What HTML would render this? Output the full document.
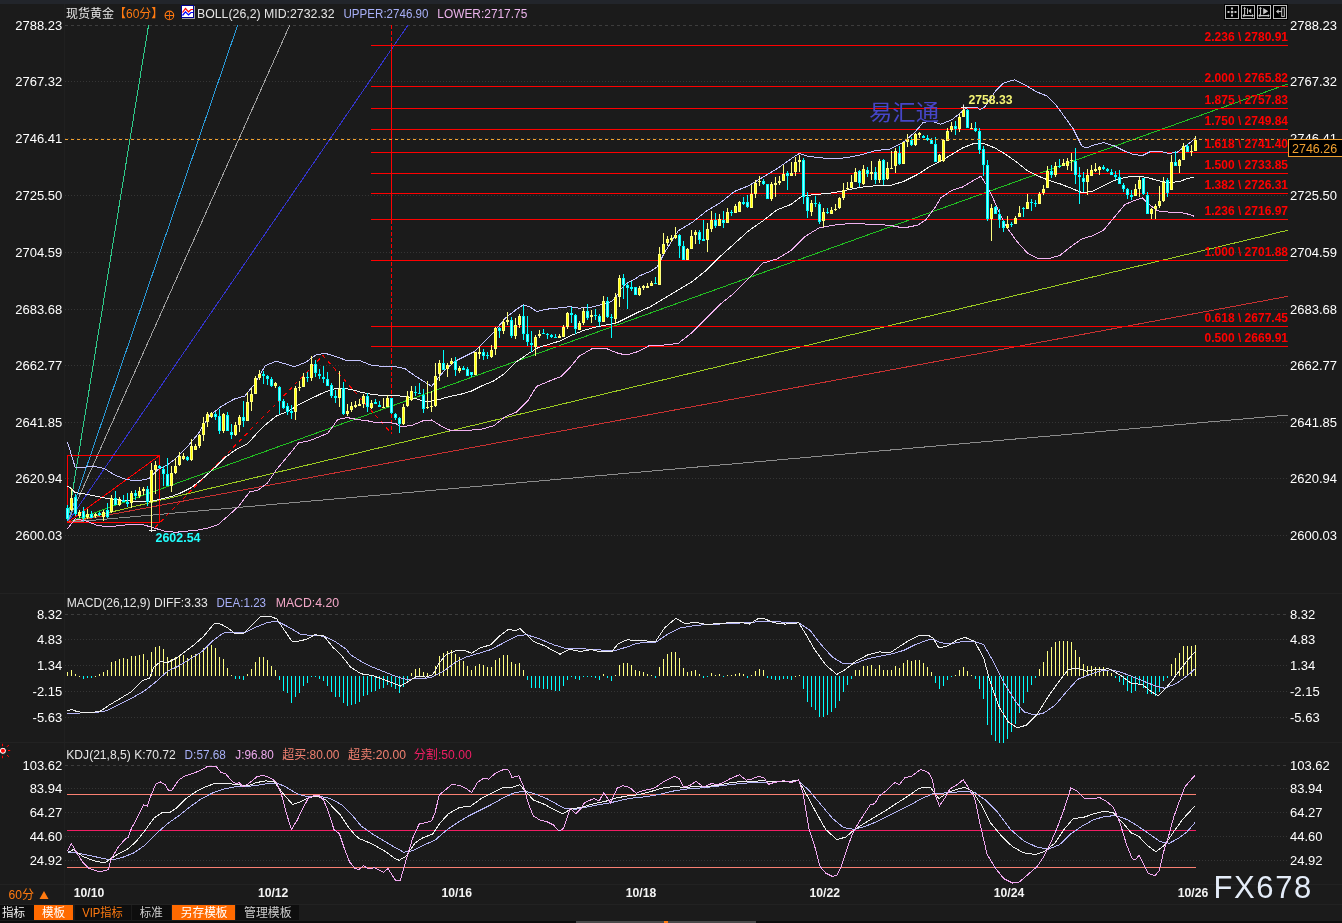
<!DOCTYPE html>
<html><head><meta charset="utf-8"><title>现货黄金 60分</title>
<style>
html,body{margin:0;padding:0;background:#1b1b1b;}
body{width:1342px;height:923px;overflow:hidden;}
svg{display:block;}
text{white-space:pre;}
</style></head><body>
<svg width="1342" height="923" viewBox="0 0 1342 923">
<rect x="0" y="0" width="1342" height="923" fill="#1b1b1b"/>
<rect x="0" y="0" width="1342" height="4" fill="#22252b"/>
<rect x="64" y="4" width="1" height="900" fill="#202020"/>
<rect x="0" y="593" width="1342" height="1" fill="#222"/>
<rect x="0" y="742" width="1342" height="1" fill="#222"/>
<rect x="0" y="884" width="1342" height="1" fill="#222"/>
<rect x="0" y="904" width="1342" height="1" fill="#222"/>
<line x1="65" y1="25.5" x2="1288" y2="25.5" stroke="#3d3d3d" stroke-width="1" stroke-dasharray="3,3" shape-rendering="crispEdges"/>
<line x1="65" y1="81.5" x2="1288" y2="81.5" stroke="#353535" stroke-width="1" stroke-dasharray="1,2" shape-rendering="crispEdges"/>
<line x1="65" y1="138.5" x2="1288" y2="138.5" stroke="#353535" stroke-width="1" stroke-dasharray="1,2" shape-rendering="crispEdges"/>
<line x1="65" y1="195.5" x2="1288" y2="195.5" stroke="#353535" stroke-width="1" stroke-dasharray="1,2" shape-rendering="crispEdges"/>
<line x1="65" y1="252.5" x2="1288" y2="252.5" stroke="#353535" stroke-width="1" stroke-dasharray="1,2" shape-rendering="crispEdges"/>
<line x1="65" y1="309.5" x2="1288" y2="309.5" stroke="#353535" stroke-width="1" stroke-dasharray="1,2" shape-rendering="crispEdges"/>
<line x1="65" y1="365.5" x2="1288" y2="365.5" stroke="#353535" stroke-width="1" stroke-dasharray="1,2" shape-rendering="crispEdges"/>
<line x1="65" y1="422.5" x2="1288" y2="422.5" stroke="#353535" stroke-width="1" stroke-dasharray="1,2" shape-rendering="crispEdges"/>
<line x1="65" y1="478.5" x2="1288" y2="478.5" stroke="#353535" stroke-width="1" stroke-dasharray="1,2" shape-rendering="crispEdges"/>
<line x1="65" y1="535.5" x2="1288" y2="535.5" stroke="#353535" stroke-width="1" stroke-dasharray="1,2" shape-rendering="crispEdges"/>
<line x1="65" y1="614.5" x2="1288" y2="614.5" stroke="#3d3d3d" stroke-width="1" stroke-dasharray="3,3" shape-rendering="crispEdges"/>
<line x1="65" y1="639.5" x2="1288" y2="639.5" stroke="#353535" stroke-width="1" stroke-dasharray="1,2" shape-rendering="crispEdges"/>
<line x1="65" y1="665.5" x2="1288" y2="665.5" stroke="#353535" stroke-width="1" stroke-dasharray="1,2" shape-rendering="crispEdges"/>
<line x1="65" y1="691.5" x2="1288" y2="691.5" stroke="#353535" stroke-width="1" stroke-dasharray="1,2" shape-rendering="crispEdges"/>
<line x1="65" y1="717.5" x2="1288" y2="717.5" stroke="#353535" stroke-width="1" stroke-dasharray="1,2" shape-rendering="crispEdges"/>
<line x1="65" y1="765.5" x2="1288" y2="765.5" stroke="#3d3d3d" stroke-width="1" stroke-dasharray="3,3" shape-rendering="crispEdges"/>
<line x1="65" y1="788.5" x2="1288" y2="788.5" stroke="#353535" stroke-width="1" stroke-dasharray="1,2" shape-rendering="crispEdges"/>
<line x1="65" y1="812.5" x2="1288" y2="812.5" stroke="#353535" stroke-width="1" stroke-dasharray="1,2" shape-rendering="crispEdges"/>
<line x1="65" y1="836.5" x2="1288" y2="836.5" stroke="#353535" stroke-width="1" stroke-dasharray="1,2" shape-rendering="crispEdges"/>
<line x1="65" y1="860.5" x2="1288" y2="860.5" stroke="#353535" stroke-width="1" stroke-dasharray="1,2" shape-rendering="crispEdges"/>

<line x1="67.5" y1="522.5" x2="148.5" y2="25.5" stroke="#2ecc8a" stroke-width="1" shape-rendering="crispEdges"/>
<line x1="67.5" y1="522.5" x2="237.5" y2="25.5" stroke="#2a9ad8" stroke-width="1" shape-rendering="crispEdges"/>
<line x1="67.5" y1="522.5" x2="289.6" y2="25.5" stroke="#a0a0a0" stroke-width="1" shape-rendering="crispEdges"/>
<line x1="67.5" y1="522.5" x2="407.7" y2="25.5" stroke="#3434d0" stroke-width="1" shape-rendering="crispEdges"/>
<line x1="67.5" y1="522.5" x2="159.5" y2="455.5" stroke="#ff0000" stroke-width="1" shape-rendering="crispEdges"/>
<line x1="67.5" y1="522.5" x2="1288.0" y2="83.9" stroke="#22c022" stroke-width="1" shape-rendering="crispEdges"/>
<line x1="67.5" y1="522.5" x2="1288.0" y2="230.2" stroke="#9ccc22" stroke-width="1" shape-rendering="crispEdges"/>
<line x1="67.5" y1="522.5" x2="1288.0" y2="296.3" stroke="#c83232" stroke-width="1" shape-rendering="crispEdges"/>
<line x1="67.5" y1="522.5" x2="1288.0" y2="415.0" stroke="#8c8c8c" stroke-width="1" shape-rendering="crispEdges"/>
<rect x="67.5" y="455.5" width="92" height="67" fill="none" stroke="#ff0000" stroke-width="1"/>
<rect x="371" y="45" width="917" height="1" fill="#ff0000"/>
<rect x="371" y="86" width="917" height="1" fill="#ff0000"/>
<rect x="371" y="108" width="917" height="1" fill="#ff0000"/>
<rect x="371" y="129" width="917" height="1" fill="#ff0000"/>
<rect x="371" y="152" width="917" height="1" fill="#ff0000"/>
<rect x="371" y="173" width="917" height="1" fill="#ff0000"/>
<rect x="371" y="193" width="917" height="1" fill="#ff0000"/>
<rect x="371" y="219" width="917" height="1" fill="#ff0000"/>
<rect x="371" y="260" width="917" height="1" fill="#ff0000"/>
<rect x="371" y="326" width="917" height="1" fill="#ff0000"/>
<rect x="371" y="346" width="917" height="1" fill="#ff0000"/>
<line x1="391.5" y1="25" x2="391.5" y2="45" stroke="#ff0000" stroke-width="1" stroke-dasharray="4,2" shape-rendering="crispEdges"/>
<rect x="391" y="45" width="1" height="174" fill="#ff0000"/>
<line x1="391.5" y1="220" x2="391.5" y2="326" stroke="#ff0000" stroke-width="1" stroke-dasharray="4,2" shape-rendering="crispEdges"/>
<rect x="391" y="326" width="1" height="21" fill="#ff0000"/>
<line x1="391.5" y1="348" x2="391.5" y2="434" stroke="#ff0000" stroke-width="1" stroke-dasharray="4,2" shape-rendering="crispEdges"/>
<polyline points="155,527.5 323,355.6 391,433" fill="none" stroke="#ff0000" stroke-width="1" stroke-dasharray="4,4" shape-rendering="crispEdges"/>
<polyline points="67.4,441.7 75.2,467.4 81.9,467.4 93.0,466.3 104.2,468.5 115.4,475.3 126.6,479.7 137.8,480.8 149.0,478.6 157.9,469.7 166.8,465.2 175.8,458.5 187.0,447.3 198.1,433.9 209.3,416.0 220.5,407.0 233.9,399.2 245.0,395.9 254.0,384.7 265.2,365.7 276.4,361.2 287.6,364.6 294.3,366.8 305.4,362.4 316.6,354.5 325.6,353.4 336.7,356.8 346.5,360.5 360.0,360.7 371.2,365.2 382.4,366.3 393.5,366.3 404.7,368.5 415.9,376.4 424.8,382.0 431.5,386.4 436.0,380.8 445.0,369.7 456.1,360.7 467.3,355.1 474.0,351.8 483.0,342.8 494.1,331.7 505.3,318.2 516.5,309.3 523.2,304.8 529.9,307.0 536.6,311.5 545.6,309.3 556.7,308.2 570.1,306.6 579.1,308.2 592.5,307.0 601.5,304.5 611.3,301.7 616.7,295.8 621.0,289.3 627.5,282.8 636.0,278.4 639.5,275.8 650.6,271.3 657.3,266.8 664.1,253.4 678.2,230.8 692.3,222.4 706.3,211.1 720.4,202.7 734.5,191.4 748.6,185.8 762.7,177.3 776.8,168.9 790.8,159.0 799.3,153.4 807.7,156.2 819.0,157.6 833.1,159.0 847.2,157.6 861.3,154.8 875.4,150.6 889.4,149.2 903.5,142.1 914.8,132.3 923.2,122.4 931.7,121.0 940.8,124.2 951.7,119.8 962.5,111.2 967.0,107.5 977.0,107.5 980.0,109.6 984.4,107.5 995.0,91.7 1003.7,83.0 1014.5,79.8 1025.4,85.2 1036.2,91.7 1047.0,96.0 1055.7,104.7 1064.4,116.6 1073.0,128.5 1081.7,145.9 1086.0,148.0 1094.7,144.8 1103.4,142.6 1114.2,145.9 1125.0,151.3 1133.7,154.5 1142.4,155.6 1151.0,151.3 1159.7,151.3 1168.4,153.4 1177.0,152.4 1185.7,145.9 1195.5,138.3" fill="none" stroke="#c4c4ff" stroke-width="1" shape-rendering="crispEdges"/>
<polyline points="67.4,486.4 70.0,487.5 75.2,492.5 86.4,494.3 97.5,496.5 108.7,498.7 119.9,499.9 131.0,501.0 142.2,501.0 153.4,501.0 162.4,498.7 171.3,496.5 180.3,493.1 191.4,487.6 202.6,478.6 213.8,468.5 225.0,457.4 236.1,449.5 247.3,444.0 256.3,433.9 265.2,425.0 276.4,416.0 287.6,411.5 298.7,404.8 309.9,399.2 321.1,393.7 332.3,389.2 343.5,388.1 354.6,390.3 360.0,392.0 371.2,394.3 382.4,395.4 393.5,395.4 404.7,396.5 415.9,398.7 427.0,402.0 438.2,399.8 449.4,396.5 460.6,394.3 471.8,390.9 483.0,385.3 494.1,380.8 505.3,373.0 516.5,361.8 527.7,354.0 538.8,347.3 550.0,344.0 561.2,340.6 572.4,335.0 583.6,330.5 594.7,327.2 605.9,325.0 617.1,322.7 628.3,317.1 639.5,311.5 650.0,306.9 664.1,298.5 678.2,290.0 692.3,281.5 706.3,270.3 720.4,256.2 734.5,243.5 748.6,230.8 762.7,221.0 776.8,210.0 790.8,204.5 802.1,196.0 819.0,194.2 833.1,192.8 847.2,190.0 861.3,187.2 875.4,185.8 889.4,185.8 903.5,181.5 917.6,174.5 930.0,166.4 940.8,161.0 951.7,154.5 962.5,148.0 973.3,143.7 984.2,143.7 995.0,148.0 1005.9,154.5 1016.7,162.1 1027.5,170.8 1038.4,176.2 1049.2,180.5 1060.0,183.8 1070.9,188.1 1081.7,192.5 1092.5,191.4 1103.4,186.0 1114.2,180.5 1125.0,177.3 1135.9,176.2 1146.7,177.3 1157.6,180.5 1168.4,182.7 1179.2,181.6 1187.9,178.4 1194.4,177.3" fill="none" stroke="#f4f4f4" stroke-width="1" shape-rendering="crispEdges"/>
<polyline points="67.4,528.9 75.2,518.9 86.4,521.0 97.5,525.6 108.7,526.7 119.9,525.6 131.0,524.4 142.2,524.4 153.4,527.8 164.6,531.1 175.8,532.3 187.0,531.1 198.1,530.0 209.3,527.8 218.3,524.4 227.2,516.6 238.4,506.6 249.6,492.0 258.5,489.8 267.4,483.1 276.4,469.7 287.6,456.3 298.7,442.8 309.9,440.6 321.1,436.1 328.0,433.0 337.8,419.5 347.5,417.6 357.0,419.5 367.0,420.7 376.8,422.7 386.5,422.4 396.0,423.5 400.2,426.7 411.4,425.6 422.6,421.0 431.5,420.0 440.5,425.6 449.4,430.0 460.6,430.0 471.8,430.0 483.0,428.9 494.1,425.6 505.3,416.6 516.5,412.1 527.7,401.0 536.6,386.4 550.0,380.8 561.2,376.4 570.1,367.4 579.1,356.3 592.5,348.4 605.9,348.4 617.1,352.9 626.0,355.1 637.2,351.8 648.4,346.2 650.0,345.0 664.1,345.0 678.2,343.5 692.3,332.3 706.3,318.2 720.4,304.1 734.5,292.8 748.6,278.7 762.7,263.2 776.8,259.0 790.8,250.6 804.9,236.5 819.0,228.0 833.1,225.2 847.2,223.8 861.3,223.8 875.4,224.6 889.4,225.2 903.5,228.0 917.6,225.2 926.0,219.6 934.5,208.3 940.8,197.9 951.7,190.3 962.5,187.0 973.3,180.5 980.9,176.2 986.4,184.9 992.9,197.9 999.4,213.0 1005.9,226.0 1016.7,241.2 1027.5,253.1 1038.4,258.6 1049.2,258.6 1060.0,255.3 1070.9,246.6 1081.7,239.0 1092.5,235.8 1103.4,230.4 1114.2,217.4 1125.0,204.4 1135.9,200.0 1142.4,197.9 1148.9,204.4 1157.6,210.9 1168.4,212.0 1179.2,212.0 1187.9,214.1 1194.4,216.3" fill="none" stroke="#f0b2f0" stroke-width="1" shape-rendering="crispEdges"/>
<rect x="67" y="505" width="1" height="16" fill="#00ffff"/>
<rect x="66" y="508" width="3" height="11" fill="#00ffff"/>
<rect x="67" y="509" width="1" height="9" fill="#90ffff"/>
<rect x="71" y="488" width="1" height="23" fill="#ffff80"/>
<rect x="70" y="498" width="3" height="12" fill="#ffff80"/>
<rect x="71" y="499" width="1" height="10" fill="#ffff00"/>
<rect x="75" y="494" width="1" height="22" fill="#00ffff"/>
<rect x="74" y="497" width="3" height="17" fill="#00ffff"/>
<rect x="75" y="498" width="1" height="15" fill="#90ffff"/>
<rect x="79" y="510" width="1" height="8" fill="#ffff80"/>
<rect x="78" y="512" width="3" height="4" fill="#ffff80"/>
<rect x="79" y="513" width="1" height="2" fill="#ffff00"/>
<rect x="83" y="507" width="1" height="14" fill="#00ffff"/>
<rect x="82" y="511" width="3" height="7" fill="#00ffff"/>
<rect x="83" y="512" width="1" height="5" fill="#90ffff"/>
<rect x="87" y="509" width="1" height="10" fill="#ffff80"/>
<rect x="86" y="514" width="3" height="3" fill="#ffff80"/>
<rect x="87" y="515" width="1" height="1" fill="#ffff00"/>
<rect x="91" y="511" width="1" height="7" fill="#00ffff"/>
<rect x="90" y="514" width="3" height="4" fill="#00ffff"/>
<rect x="91" y="515" width="1" height="2" fill="#90ffff"/>
<rect x="95" y="513" width="1" height="5" fill="#ffff80"/>
<rect x="94" y="514" width="3" height="2" fill="#ffff80"/>
<rect x="99" y="512" width="1" height="4" fill="#00ffff"/>
<rect x="98" y="513" width="3" height="2" fill="#00ffff"/>
<rect x="103" y="510" width="1" height="11" fill="#ffff80"/>
<rect x="102" y="512" width="3" height="5" fill="#ffff80"/>
<rect x="103" y="513" width="1" height="3" fill="#ffff00"/>
<rect x="107" y="503" width="1" height="15" fill="#00ffff"/>
<rect x="106" y="510" width="3" height="7" fill="#00ffff"/>
<rect x="107" y="511" width="1" height="5" fill="#90ffff"/>
<rect x="111" y="495" width="1" height="18" fill="#ffff80"/>
<rect x="110" y="498" width="3" height="14" fill="#ffff80"/>
<rect x="111" y="499" width="1" height="12" fill="#ffff00"/>
<rect x="115" y="491" width="1" height="14" fill="#00ffff"/>
<rect x="114" y="498" width="3" height="7" fill="#00ffff"/>
<rect x="115" y="499" width="1" height="5" fill="#90ffff"/>
<rect x="119" y="497" width="1" height="9" fill="#ffff80"/>
<rect x="118" y="500" width="3" height="5" fill="#ffff80"/>
<rect x="119" y="501" width="1" height="3" fill="#ffff00"/>
<rect x="123" y="495" width="1" height="7" fill="#00ffff"/>
<rect x="122" y="500" width="3" height="2" fill="#00ffff"/>
<rect x="127" y="493" width="1" height="14" fill="#00ffff"/>
<rect x="126" y="502" width="3" height="2" fill="#00ffff"/>
<rect x="131" y="491" width="1" height="17" fill="#ffff80"/>
<rect x="130" y="493" width="3" height="10" fill="#ffff80"/>
<rect x="131" y="494" width="1" height="8" fill="#ffff00"/>
<rect x="135" y="490" width="1" height="10" fill="#00ffff"/>
<rect x="134" y="493" width="3" height="3" fill="#00ffff"/>
<rect x="135" y="494" width="1" height="1" fill="#90ffff"/>
<rect x="139" y="487" width="1" height="11" fill="#ffff80"/>
<rect x="138" y="491" width="3" height="5" fill="#ffff80"/>
<rect x="139" y="492" width="1" height="3" fill="#ffff00"/>
<rect x="143" y="487" width="1" height="8" fill="#ffff80"/>
<rect x="142" y="489" width="3" height="2" fill="#ffff80"/>
<rect x="147" y="486" width="1" height="20" fill="#00ffff"/>
<rect x="146" y="489" width="3" height="13" fill="#00ffff"/>
<rect x="147" y="490" width="1" height="11" fill="#90ffff"/>
<rect x="151" y="463" width="1" height="66" fill="#ffff80"/>
<rect x="150" y="470" width="3" height="32" fill="#ffff80"/>
<rect x="151" y="471" width="1" height="30" fill="#ffff00"/>
<rect x="155" y="461" width="1" height="33" fill="#ffff80"/>
<rect x="154" y="465" width="3" height="5" fill="#ffff80"/>
<rect x="155" y="466" width="1" height="3" fill="#ffff00"/>
<rect x="159" y="465" width="1" height="4" fill="#00ffff"/>
<rect x="158" y="466" width="3" height="2" fill="#00ffff"/>
<rect x="163" y="466" width="1" height="20" fill="#00ffff"/>
<rect x="162" y="469" width="3" height="5" fill="#00ffff"/>
<rect x="163" y="470" width="1" height="3" fill="#90ffff"/>
<rect x="167" y="458" width="1" height="28" fill="#00ffff"/>
<rect x="166" y="474" width="3" height="12" fill="#00ffff"/>
<rect x="167" y="475" width="1" height="10" fill="#90ffff"/>
<rect x="171" y="466" width="1" height="26" fill="#ffff80"/>
<rect x="170" y="473" width="3" height="13" fill="#ffff80"/>
<rect x="171" y="474" width="1" height="11" fill="#ffff00"/>
<rect x="175" y="458" width="1" height="16" fill="#ffff80"/>
<rect x="174" y="466" width="3" height="7" fill="#ffff80"/>
<rect x="175" y="467" width="1" height="5" fill="#ffff00"/>
<rect x="179" y="452" width="1" height="14" fill="#ffff80"/>
<rect x="178" y="456" width="3" height="9" fill="#ffff80"/>
<rect x="179" y="457" width="1" height="7" fill="#ffff00"/>
<rect x="183" y="453" width="1" height="7" fill="#ffff80"/>
<rect x="182" y="456" width="3" height="3" fill="#ffff80"/>
<rect x="183" y="457" width="1" height="1" fill="#ffff00"/>
<rect x="187" y="456" width="1" height="5" fill="#00ffff"/>
<rect x="186" y="457" width="3" height="3" fill="#00ffff"/>
<rect x="187" y="458" width="1" height="1" fill="#90ffff"/>
<rect x="191" y="439" width="1" height="22" fill="#ffff80"/>
<rect x="190" y="446" width="3" height="14" fill="#ffff80"/>
<rect x="191" y="447" width="1" height="12" fill="#ffff00"/>
<rect x="195" y="444" width="1" height="6" fill="#ffff80"/>
<rect x="194" y="446" width="3" height="4" fill="#ffff80"/>
<rect x="195" y="447" width="1" height="2" fill="#ffff00"/>
<rect x="199" y="434" width="1" height="14" fill="#ffff80"/>
<rect x="198" y="435" width="3" height="11" fill="#ffff80"/>
<rect x="199" y="436" width="1" height="9" fill="#ffff00"/>
<rect x="203" y="417" width="1" height="24" fill="#ffff80"/>
<rect x="202" y="423" width="3" height="12" fill="#ffff80"/>
<rect x="203" y="424" width="1" height="10" fill="#ffff00"/>
<rect x="207" y="412" width="1" height="15" fill="#ffff80"/>
<rect x="206" y="414" width="3" height="8" fill="#ffff80"/>
<rect x="207" y="415" width="1" height="6" fill="#ffff00"/>
<rect x="211" y="412" width="1" height="6" fill="#ffff80"/>
<rect x="210" y="413" width="3" height="4" fill="#ffff80"/>
<rect x="211" y="414" width="1" height="2" fill="#ffff00"/>
<rect x="215" y="412" width="1" height="8" fill="#00ffff"/>
<rect x="214" y="414" width="3" height="3" fill="#00ffff"/>
<rect x="215" y="415" width="1" height="1" fill="#90ffff"/>
<rect x="219" y="409" width="1" height="25" fill="#00ffff"/>
<rect x="218" y="416" width="3" height="15" fill="#00ffff"/>
<rect x="219" y="417" width="1" height="13" fill="#90ffff"/>
<rect x="223" y="413" width="1" height="20" fill="#ffff80"/>
<rect x="222" y="414" width="3" height="17" fill="#ffff80"/>
<rect x="223" y="415" width="1" height="15" fill="#ffff00"/>
<rect x="227" y="412" width="1" height="19" fill="#00ffff"/>
<rect x="226" y="415" width="3" height="16" fill="#00ffff"/>
<rect x="227" y="416" width="1" height="14" fill="#90ffff"/>
<rect x="231" y="424" width="1" height="15" fill="#00ffff"/>
<rect x="230" y="432" width="3" height="3" fill="#00ffff"/>
<rect x="231" y="433" width="1" height="1" fill="#90ffff"/>
<rect x="235" y="422" width="1" height="14" fill="#ffff80"/>
<rect x="234" y="425" width="3" height="10" fill="#ffff80"/>
<rect x="235" y="426" width="1" height="8" fill="#ffff00"/>
<rect x="239" y="415" width="1" height="17" fill="#ffff80"/>
<rect x="238" y="417" width="3" height="8" fill="#ffff80"/>
<rect x="239" y="418" width="1" height="6" fill="#ffff00"/>
<rect x="243" y="401" width="1" height="26" fill="#00ffff"/>
<rect x="242" y="417" width="3" height="4" fill="#00ffff"/>
<rect x="243" y="418" width="1" height="2" fill="#90ffff"/>
<rect x="247" y="392" width="1" height="29" fill="#ffff80"/>
<rect x="246" y="402" width="3" height="19" fill="#ffff80"/>
<rect x="247" y="403" width="1" height="17" fill="#ffff00"/>
<rect x="251" y="388" width="1" height="23" fill="#ffff80"/>
<rect x="250" y="394" width="3" height="8" fill="#ffff80"/>
<rect x="251" y="395" width="1" height="6" fill="#ffff00"/>
<rect x="255" y="376" width="1" height="18" fill="#ffff80"/>
<rect x="254" y="378" width="3" height="16" fill="#ffff80"/>
<rect x="255" y="379" width="1" height="14" fill="#ffff00"/>
<rect x="259" y="370" width="1" height="10" fill="#ffff80"/>
<rect x="258" y="374" width="3" height="4" fill="#ffff80"/>
<rect x="259" y="375" width="1" height="2" fill="#ffff00"/>
<rect x="263" y="371" width="1" height="13" fill="#00ffff"/>
<rect x="262" y="374" width="3" height="2" fill="#00ffff"/>
<rect x="267" y="375" width="1" height="10" fill="#00ffff"/>
<rect x="266" y="376" width="3" height="3" fill="#00ffff"/>
<rect x="267" y="377" width="1" height="1" fill="#90ffff"/>
<rect x="271" y="377" width="1" height="10" fill="#00ffff"/>
<rect x="270" y="379" width="3" height="7" fill="#00ffff"/>
<rect x="271" y="380" width="1" height="5" fill="#90ffff"/>
<rect x="275" y="382" width="1" height="6" fill="#ffff80"/>
<rect x="274" y="383" width="3" height="3" fill="#ffff80"/>
<rect x="275" y="384" width="1" height="1" fill="#ffff00"/>
<rect x="279" y="386" width="1" height="28" fill="#00ffff"/>
<rect x="278" y="387" width="3" height="14" fill="#00ffff"/>
<rect x="279" y="388" width="1" height="12" fill="#90ffff"/>
<rect x="283" y="399" width="1" height="10" fill="#00ffff"/>
<rect x="282" y="401" width="3" height="7" fill="#00ffff"/>
<rect x="283" y="402" width="1" height="5" fill="#90ffff"/>
<rect x="287" y="403" width="1" height="12" fill="#00ffff"/>
<rect x="286" y="406" width="3" height="6" fill="#00ffff"/>
<rect x="287" y="407" width="1" height="4" fill="#90ffff"/>
<rect x="291" y="405" width="1" height="14" fill="#00ffff"/>
<rect x="290" y="411" width="3" height="2" fill="#00ffff"/>
<rect x="295" y="386" width="1" height="34" fill="#ffff80"/>
<rect x="294" y="388" width="3" height="24" fill="#ffff80"/>
<rect x="295" y="389" width="1" height="22" fill="#ffff00"/>
<rect x="299" y="381" width="1" height="10" fill="#ffff80"/>
<rect x="298" y="387" width="3" height="1" fill="#ffff80"/>
<rect x="303" y="373" width="1" height="14" fill="#ffff80"/>
<rect x="302" y="377" width="3" height="10" fill="#ffff80"/>
<rect x="303" y="378" width="1" height="8" fill="#ffff00"/>
<rect x="307" y="372" width="1" height="10" fill="#00ffff"/>
<rect x="306" y="377" width="3" height="1" fill="#00ffff"/>
<rect x="311" y="356" width="1" height="25" fill="#ffff80"/>
<rect x="310" y="364" width="3" height="14" fill="#ffff80"/>
<rect x="311" y="365" width="1" height="12" fill="#ffff00"/>
<rect x="315" y="360" width="1" height="17" fill="#00ffff"/>
<rect x="314" y="364" width="3" height="9" fill="#00ffff"/>
<rect x="315" y="365" width="1" height="7" fill="#90ffff"/>
<rect x="319" y="369" width="1" height="10" fill="#00ffff"/>
<rect x="318" y="374" width="3" height="2" fill="#00ffff"/>
<rect x="323" y="366" width="1" height="17" fill="#00ffff"/>
<rect x="322" y="377" width="3" height="2" fill="#00ffff"/>
<rect x="327" y="372" width="1" height="14" fill="#00ffff"/>
<rect x="326" y="379" width="3" height="7" fill="#00ffff"/>
<rect x="327" y="380" width="1" height="5" fill="#90ffff"/>
<rect x="331" y="383" width="1" height="15" fill="#00ffff"/>
<rect x="330" y="385" width="3" height="11" fill="#00ffff"/>
<rect x="331" y="386" width="1" height="9" fill="#90ffff"/>
<rect x="335" y="390" width="1" height="13" fill="#00ffff"/>
<rect x="334" y="396" width="3" height="2" fill="#00ffff"/>
<rect x="339" y="371" width="1" height="36" fill="#ffff80"/>
<rect x="338" y="389" width="3" height="9" fill="#ffff80"/>
<rect x="339" y="390" width="1" height="7" fill="#ffff00"/>
<rect x="343" y="382" width="1" height="33" fill="#00ffff"/>
<rect x="342" y="388" width="3" height="26" fill="#00ffff"/>
<rect x="343" y="389" width="1" height="24" fill="#90ffff"/>
<rect x="347" y="404" width="1" height="12" fill="#ffff80"/>
<rect x="346" y="411" width="3" height="3" fill="#ffff80"/>
<rect x="347" y="412" width="1" height="1" fill="#ffff00"/>
<rect x="351" y="402" width="1" height="10" fill="#ffff80"/>
<rect x="350" y="406" width="3" height="4" fill="#ffff80"/>
<rect x="351" y="407" width="1" height="2" fill="#ffff00"/>
<rect x="355" y="401" width="1" height="7" fill="#ffff80"/>
<rect x="354" y="405" width="3" height="2" fill="#ffff80"/>
<rect x="359" y="399" width="1" height="7" fill="#ffff80"/>
<rect x="358" y="404" width="3" height="2" fill="#ffff80"/>
<rect x="363" y="394" width="1" height="14" fill="#ffff80"/>
<rect x="362" y="396" width="3" height="8" fill="#ffff80"/>
<rect x="363" y="397" width="1" height="6" fill="#ffff00"/>
<rect x="367" y="393" width="1" height="19" fill="#00ffff"/>
<rect x="366" y="396" width="3" height="11" fill="#00ffff"/>
<rect x="367" y="397" width="1" height="9" fill="#90ffff"/>
<rect x="371" y="400" width="1" height="9" fill="#ffff80"/>
<rect x="370" y="403" width="3" height="5" fill="#ffff80"/>
<rect x="371" y="404" width="1" height="3" fill="#ffff00"/>
<rect x="375" y="399" width="1" height="5" fill="#00ffff"/>
<rect x="374" y="402" width="3" height="2" fill="#00ffff"/>
<rect x="379" y="401" width="1" height="6" fill="#00ffff"/>
<rect x="378" y="405" width="3" height="2" fill="#00ffff"/>
<rect x="383" y="398" width="1" height="10" fill="#ffff80"/>
<rect x="382" y="407" width="3" height="1" fill="#ffff80"/>
<rect x="387" y="395" width="1" height="12" fill="#ffff80"/>
<rect x="386" y="398" width="3" height="9" fill="#ffff80"/>
<rect x="387" y="399" width="1" height="7" fill="#ffff00"/>
<rect x="391" y="398" width="1" height="16" fill="#00ffff"/>
<rect x="390" y="398" width="3" height="15" fill="#00ffff"/>
<rect x="391" y="399" width="1" height="13" fill="#90ffff"/>
<rect x="395" y="413" width="1" height="7" fill="#00ffff"/>
<rect x="394" y="414" width="3" height="4" fill="#00ffff"/>
<rect x="395" y="415" width="1" height="2" fill="#90ffff"/>
<rect x="399" y="417" width="1" height="16" fill="#00ffff"/>
<rect x="398" y="418" width="3" height="6" fill="#00ffff"/>
<rect x="399" y="419" width="1" height="4" fill="#90ffff"/>
<rect x="403" y="404" width="1" height="21" fill="#ffff80"/>
<rect x="402" y="407" width="3" height="17" fill="#ffff80"/>
<rect x="403" y="408" width="1" height="15" fill="#ffff00"/>
<rect x="407" y="391" width="1" height="16" fill="#ffff80"/>
<rect x="406" y="396" width="3" height="10" fill="#ffff80"/>
<rect x="407" y="397" width="1" height="8" fill="#ffff00"/>
<rect x="411" y="386" width="1" height="15" fill="#ffff80"/>
<rect x="410" y="391" width="3" height="9" fill="#ffff80"/>
<rect x="411" y="392" width="1" height="7" fill="#ffff00"/>
<rect x="415" y="386" width="1" height="10" fill="#00ffff"/>
<rect x="414" y="392" width="3" height="1" fill="#00ffff"/>
<rect x="419" y="383" width="1" height="11" fill="#00ffff"/>
<rect x="418" y="393" width="3" height="1" fill="#00ffff"/>
<rect x="423" y="389" width="1" height="24" fill="#00ffff"/>
<rect x="422" y="395" width="3" height="14" fill="#00ffff"/>
<rect x="423" y="396" width="1" height="12" fill="#90ffff"/>
<rect x="427" y="381" width="1" height="28" fill="#ffff80"/>
<rect x="426" y="407" width="3" height="1" fill="#ffff80"/>
<rect x="431" y="391" width="1" height="21" fill="#ffff80"/>
<rect x="430" y="406" width="3" height="1" fill="#ffff80"/>
<rect x="435" y="363" width="1" height="44" fill="#ffff80"/>
<rect x="434" y="376" width="3" height="30" fill="#ffff80"/>
<rect x="435" y="377" width="1" height="28" fill="#ffff00"/>
<rect x="439" y="360" width="1" height="21" fill="#ffff80"/>
<rect x="438" y="363" width="3" height="11" fill="#ffff80"/>
<rect x="439" y="364" width="1" height="9" fill="#ffff00"/>
<rect x="443" y="350" width="1" height="20" fill="#00ffff"/>
<rect x="442" y="363" width="3" height="7" fill="#00ffff"/>
<rect x="443" y="364" width="1" height="5" fill="#90ffff"/>
<rect x="447" y="363" width="1" height="14" fill="#ffff80"/>
<rect x="446" y="365" width="3" height="4" fill="#ffff80"/>
<rect x="447" y="366" width="1" height="2" fill="#ffff00"/>
<rect x="451" y="358" width="1" height="7" fill="#ffff80"/>
<rect x="450" y="361" width="3" height="3" fill="#ffff80"/>
<rect x="451" y="362" width="1" height="1" fill="#ffff00"/>
<rect x="455" y="357" width="1" height="19" fill="#00ffff"/>
<rect x="454" y="361" width="3" height="9" fill="#00ffff"/>
<rect x="455" y="362" width="1" height="7" fill="#90ffff"/>
<rect x="459" y="366" width="1" height="7" fill="#ffff80"/>
<rect x="458" y="368" width="3" height="3" fill="#ffff80"/>
<rect x="459" y="369" width="1" height="1" fill="#ffff00"/>
<rect x="463" y="366" width="1" height="4" fill="#00ffff"/>
<rect x="462" y="368" width="3" height="2" fill="#00ffff"/>
<rect x="467" y="367" width="1" height="9" fill="#00ffff"/>
<rect x="466" y="369" width="3" height="7" fill="#00ffff"/>
<rect x="467" y="370" width="1" height="5" fill="#90ffff"/>
<rect x="471" y="372" width="1" height="5" fill="#00ffff"/>
<rect x="470" y="372" width="3" height="3" fill="#00ffff"/>
<rect x="471" y="373" width="1" height="1" fill="#90ffff"/>
<rect x="475" y="352" width="1" height="23" fill="#ffff80"/>
<rect x="474" y="352" width="3" height="23" fill="#ffff80"/>
<rect x="475" y="353" width="1" height="21" fill="#ffff00"/>
<rect x="479" y="347" width="1" height="12" fill="#ffff80"/>
<rect x="478" y="352" width="3" height="2" fill="#ffff80"/>
<rect x="483" y="349" width="1" height="11" fill="#00ffff"/>
<rect x="482" y="352" width="3" height="4" fill="#00ffff"/>
<rect x="483" y="353" width="1" height="2" fill="#90ffff"/>
<rect x="487" y="352" width="1" height="7" fill="#00ffff"/>
<rect x="486" y="355" width="3" height="1" fill="#00ffff"/>
<rect x="491" y="345" width="1" height="13" fill="#ffff80"/>
<rect x="490" y="350" width="3" height="7" fill="#ffff80"/>
<rect x="491" y="351" width="1" height="5" fill="#ffff00"/>
<rect x="495" y="327" width="1" height="28" fill="#ffff80"/>
<rect x="494" y="328" width="3" height="21" fill="#ffff80"/>
<rect x="495" y="329" width="1" height="19" fill="#ffff00"/>
<rect x="499" y="327" width="1" height="11" fill="#00ffff"/>
<rect x="498" y="328" width="3" height="3" fill="#00ffff"/>
<rect x="499" y="329" width="1" height="1" fill="#90ffff"/>
<rect x="503" y="319" width="1" height="15" fill="#ffff80"/>
<rect x="502" y="322" width="3" height="9" fill="#ffff80"/>
<rect x="503" y="323" width="1" height="7" fill="#ffff00"/>
<rect x="507" y="312" width="1" height="13" fill="#ffff80"/>
<rect x="506" y="320" width="3" height="2" fill="#ffff80"/>
<rect x="511" y="317" width="1" height="21" fill="#00ffff"/>
<rect x="510" y="320" width="3" height="16" fill="#00ffff"/>
<rect x="511" y="321" width="1" height="14" fill="#90ffff"/>
<rect x="515" y="318" width="1" height="21" fill="#ffff80"/>
<rect x="514" y="325" width="3" height="11" fill="#ffff80"/>
<rect x="515" y="326" width="1" height="9" fill="#ffff00"/>
<rect x="519" y="314" width="1" height="14" fill="#ffff80"/>
<rect x="518" y="316" width="3" height="9" fill="#ffff80"/>
<rect x="519" y="317" width="1" height="7" fill="#ffff00"/>
<rect x="523" y="305" width="1" height="35" fill="#00ffff"/>
<rect x="522" y="316" width="3" height="18" fill="#00ffff"/>
<rect x="523" y="317" width="1" height="16" fill="#90ffff"/>
<rect x="527" y="316" width="1" height="30" fill="#00ffff"/>
<rect x="526" y="334" width="3" height="8" fill="#00ffff"/>
<rect x="527" y="335" width="1" height="6" fill="#90ffff"/>
<rect x="531" y="331" width="1" height="21" fill="#00ffff"/>
<rect x="530" y="343" width="3" height="2" fill="#00ffff"/>
<rect x="535" y="335" width="1" height="21" fill="#ffff80"/>
<rect x="534" y="337" width="3" height="10" fill="#ffff80"/>
<rect x="535" y="338" width="1" height="8" fill="#ffff00"/>
<rect x="539" y="330" width="1" height="8" fill="#ffff80"/>
<rect x="538" y="334" width="3" height="2" fill="#ffff80"/>
<rect x="543" y="329" width="1" height="5" fill="#00ffff"/>
<rect x="542" y="333" width="3" height="1" fill="#00ffff"/>
<rect x="547" y="333" width="1" height="6" fill="#00ffff"/>
<rect x="546" y="334" width="3" height="1" fill="#00ffff"/>
<rect x="551" y="334" width="1" height="4" fill="#00ffff"/>
<rect x="550" y="335" width="3" height="2" fill="#00ffff"/>
<rect x="555" y="334" width="1" height="4" fill="#00ffff"/>
<rect x="554" y="337" width="3" height="1" fill="#00ffff"/>
<rect x="559" y="334" width="1" height="4" fill="#ffff80"/>
<rect x="558" y="336" width="3" height="2" fill="#ffff80"/>
<rect x="563" y="325" width="1" height="12" fill="#ffff80"/>
<rect x="562" y="327" width="3" height="10" fill="#ffff80"/>
<rect x="563" y="328" width="1" height="8" fill="#ffff00"/>
<rect x="567" y="312" width="1" height="17" fill="#ffff80"/>
<rect x="566" y="313" width="3" height="14" fill="#ffff80"/>
<rect x="567" y="314" width="1" height="12" fill="#ffff00"/>
<rect x="571" y="307" width="1" height="16" fill="#00ffff"/>
<rect x="570" y="313" width="3" height="2" fill="#00ffff"/>
<rect x="575" y="314" width="1" height="20" fill="#00ffff"/>
<rect x="574" y="315" width="3" height="14" fill="#00ffff"/>
<rect x="575" y="316" width="1" height="12" fill="#90ffff"/>
<rect x="579" y="321" width="1" height="9" fill="#ffff80"/>
<rect x="578" y="323" width="3" height="7" fill="#ffff80"/>
<rect x="579" y="324" width="1" height="5" fill="#ffff00"/>
<rect x="583" y="308" width="1" height="17" fill="#ffff80"/>
<rect x="582" y="311" width="3" height="12" fill="#ffff80"/>
<rect x="583" y="312" width="1" height="10" fill="#ffff00"/>
<rect x="587" y="304" width="1" height="16" fill="#00ffff"/>
<rect x="586" y="311" width="3" height="7" fill="#00ffff"/>
<rect x="587" y="312" width="1" height="5" fill="#90ffff"/>
<rect x="591" y="310" width="1" height="13" fill="#ffff80"/>
<rect x="590" y="315" width="3" height="2" fill="#ffff80"/>
<rect x="595" y="309" width="1" height="11" fill="#00ffff"/>
<rect x="594" y="315" width="3" height="1" fill="#00ffff"/>
<rect x="599" y="314" width="1" height="12" fill="#00ffff"/>
<rect x="598" y="316" width="3" height="6" fill="#00ffff"/>
<rect x="599" y="317" width="1" height="4" fill="#90ffff"/>
<rect x="603" y="296" width="1" height="26" fill="#ffff80"/>
<rect x="602" y="301" width="3" height="21" fill="#ffff80"/>
<rect x="603" y="302" width="1" height="19" fill="#ffff00"/>
<rect x="607" y="297" width="1" height="21" fill="#00ffff"/>
<rect x="606" y="301" width="3" height="16" fill="#00ffff"/>
<rect x="607" y="302" width="1" height="14" fill="#90ffff"/>
<rect x="611" y="314" width="1" height="24" fill="#00ffff"/>
<rect x="610" y="317" width="3" height="1" fill="#00ffff"/>
<rect x="615" y="293" width="1" height="31" fill="#ffff80"/>
<rect x="614" y="297" width="3" height="22" fill="#ffff80"/>
<rect x="615" y="298" width="1" height="20" fill="#ffff00"/>
<rect x="619" y="275" width="1" height="32" fill="#ffff80"/>
<rect x="618" y="278" width="3" height="19" fill="#ffff80"/>
<rect x="619" y="279" width="1" height="17" fill="#ffff00"/>
<rect x="623" y="274" width="1" height="25" fill="#00ffff"/>
<rect x="622" y="278" width="3" height="7" fill="#00ffff"/>
<rect x="623" y="279" width="1" height="5" fill="#90ffff"/>
<rect x="627" y="283" width="1" height="26" fill="#00ffff"/>
<rect x="626" y="285" width="3" height="3" fill="#00ffff"/>
<rect x="627" y="286" width="1" height="1" fill="#90ffff"/>
<rect x="631" y="281" width="1" height="10" fill="#00ffff"/>
<rect x="630" y="287" width="3" height="2" fill="#00ffff"/>
<rect x="635" y="287" width="1" height="8" fill="#00ffff"/>
<rect x="634" y="287" width="3" height="8" fill="#00ffff"/>
<rect x="635" y="288" width="1" height="6" fill="#90ffff"/>
<rect x="639" y="286" width="1" height="10" fill="#ffff80"/>
<rect x="638" y="288" width="3" height="7" fill="#ffff80"/>
<rect x="639" y="289" width="1" height="5" fill="#ffff00"/>
<rect x="643" y="285" width="1" height="5" fill="#ffff80"/>
<rect x="642" y="286" width="3" height="2" fill="#ffff80"/>
<rect x="647" y="283" width="1" height="5" fill="#ffff80"/>
<rect x="646" y="286" width="3" height="2" fill="#ffff80"/>
<rect x="651" y="281" width="1" height="5" fill="#ffff80"/>
<rect x="650" y="283" width="3" height="3" fill="#ffff80"/>
<rect x="651" y="284" width="1" height="1" fill="#ffff00"/>
<rect x="655" y="277" width="1" height="7" fill="#00ffff"/>
<rect x="654" y="283" width="3" height="1" fill="#00ffff"/>
<rect x="659" y="247" width="1" height="38" fill="#ffff80"/>
<rect x="658" y="254" width="3" height="31" fill="#ffff80"/>
<rect x="659" y="255" width="1" height="29" fill="#ffff00"/>
<rect x="663" y="233" width="1" height="21" fill="#ffff80"/>
<rect x="662" y="244" width="3" height="10" fill="#ffff80"/>
<rect x="663" y="245" width="1" height="8" fill="#ffff00"/>
<rect x="667" y="236" width="1" height="10" fill="#ffff80"/>
<rect x="666" y="239" width="3" height="4" fill="#ffff80"/>
<rect x="667" y="240" width="1" height="2" fill="#ffff00"/>
<rect x="671" y="235" width="1" height="7" fill="#ffff80"/>
<rect x="670" y="238" width="3" height="2" fill="#ffff80"/>
<rect x="675" y="227" width="1" height="12" fill="#ffff80"/>
<rect x="674" y="235" width="3" height="3" fill="#ffff80"/>
<rect x="675" y="236" width="1" height="1" fill="#ffff00"/>
<rect x="679" y="234" width="1" height="24" fill="#00ffff"/>
<rect x="678" y="235" width="3" height="11" fill="#00ffff"/>
<rect x="679" y="236" width="1" height="9" fill="#90ffff"/>
<rect x="683" y="241" width="1" height="19" fill="#00ffff"/>
<rect x="682" y="246" width="3" height="14" fill="#00ffff"/>
<rect x="683" y="247" width="1" height="12" fill="#90ffff"/>
<rect x="687" y="248" width="1" height="12" fill="#ffff80"/>
<rect x="686" y="249" width="3" height="11" fill="#ffff80"/>
<rect x="687" y="250" width="1" height="9" fill="#ffff00"/>
<rect x="691" y="230" width="1" height="19" fill="#ffff80"/>
<rect x="690" y="236" width="3" height="13" fill="#ffff80"/>
<rect x="691" y="237" width="1" height="11" fill="#ffff00"/>
<rect x="695" y="230" width="1" height="14" fill="#ffff80"/>
<rect x="694" y="232" width="3" height="3" fill="#ffff80"/>
<rect x="695" y="233" width="1" height="1" fill="#ffff00"/>
<rect x="699" y="230" width="1" height="14" fill="#00ffff"/>
<rect x="698" y="232" width="3" height="8" fill="#00ffff"/>
<rect x="699" y="233" width="1" height="6" fill="#90ffff"/>
<rect x="703" y="220" width="1" height="21" fill="#00ffff"/>
<rect x="702" y="239" width="3" height="2" fill="#00ffff"/>
<rect x="707" y="223" width="1" height="29" fill="#ffff80"/>
<rect x="706" y="229" width="3" height="11" fill="#ffff80"/>
<rect x="707" y="230" width="1" height="9" fill="#ffff00"/>
<rect x="711" y="211" width="1" height="21" fill="#ffff80"/>
<rect x="710" y="220" width="3" height="9" fill="#ffff80"/>
<rect x="711" y="221" width="1" height="7" fill="#ffff00"/>
<rect x="715" y="213" width="1" height="15" fill="#00ffff"/>
<rect x="714" y="220" width="3" height="6" fill="#00ffff"/>
<rect x="715" y="221" width="1" height="4" fill="#90ffff"/>
<rect x="719" y="214" width="1" height="12" fill="#ffff80"/>
<rect x="718" y="219" width="3" height="7" fill="#ffff80"/>
<rect x="719" y="220" width="1" height="5" fill="#ffff00"/>
<rect x="723" y="211" width="1" height="17" fill="#00ffff"/>
<rect x="722" y="220" width="3" height="3" fill="#00ffff"/>
<rect x="723" y="221" width="1" height="1" fill="#90ffff"/>
<rect x="727" y="208" width="1" height="15" fill="#ffff80"/>
<rect x="726" y="212" width="3" height="11" fill="#ffff80"/>
<rect x="727" y="213" width="1" height="9" fill="#ffff00"/>
<rect x="731" y="210" width="1" height="6" fill="#00ffff"/>
<rect x="730" y="212" width="3" height="1" fill="#00ffff"/>
<rect x="735" y="204" width="1" height="9" fill="#ffff80"/>
<rect x="734" y="206" width="3" height="7" fill="#ffff80"/>
<rect x="735" y="207" width="1" height="5" fill="#ffff00"/>
<rect x="739" y="201" width="1" height="11" fill="#ffff80"/>
<rect x="738" y="202" width="3" height="10" fill="#ffff80"/>
<rect x="739" y="203" width="1" height="8" fill="#ffff00"/>
<rect x="743" y="197" width="1" height="8" fill="#00ffff"/>
<rect x="742" y="202" width="3" height="2" fill="#00ffff"/>
<rect x="747" y="195" width="1" height="13" fill="#00ffff"/>
<rect x="746" y="202" width="3" height="5" fill="#00ffff"/>
<rect x="747" y="203" width="1" height="3" fill="#90ffff"/>
<rect x="751" y="185" width="1" height="23" fill="#ffff80"/>
<rect x="750" y="194" width="3" height="14" fill="#ffff80"/>
<rect x="751" y="195" width="1" height="12" fill="#ffff00"/>
<rect x="755" y="180" width="1" height="18" fill="#ffff80"/>
<rect x="754" y="183" width="3" height="11" fill="#ffff80"/>
<rect x="755" y="184" width="1" height="9" fill="#ffff00"/>
<rect x="759" y="176" width="1" height="10" fill="#ffff80"/>
<rect x="758" y="181" width="3" height="1" fill="#ffff80"/>
<rect x="763" y="179" width="1" height="6" fill="#00ffff"/>
<rect x="762" y="181" width="3" height="3" fill="#00ffff"/>
<rect x="763" y="182" width="1" height="1" fill="#90ffff"/>
<rect x="767" y="184" width="1" height="15" fill="#00ffff"/>
<rect x="766" y="184" width="3" height="15" fill="#00ffff"/>
<rect x="767" y="185" width="1" height="13" fill="#90ffff"/>
<rect x="771" y="182" width="1" height="19" fill="#ffff80"/>
<rect x="770" y="184" width="3" height="15" fill="#ffff80"/>
<rect x="771" y="185" width="1" height="13" fill="#ffff00"/>
<rect x="775" y="177" width="1" height="20" fill="#ffff80"/>
<rect x="774" y="183" width="3" height="2" fill="#ffff80"/>
<rect x="779" y="176" width="1" height="9" fill="#ffff80"/>
<rect x="778" y="181" width="3" height="2" fill="#ffff80"/>
<rect x="783" y="165" width="1" height="16" fill="#ffff80"/>
<rect x="782" y="174" width="3" height="7" fill="#ffff80"/>
<rect x="783" y="175" width="1" height="5" fill="#ffff00"/>
<rect x="787" y="171" width="1" height="19" fill="#00ffff"/>
<rect x="786" y="173" width="3" height="3" fill="#00ffff"/>
<rect x="787" y="174" width="1" height="1" fill="#90ffff"/>
<rect x="791" y="162" width="1" height="14" fill="#ffff80"/>
<rect x="790" y="173" width="3" height="3" fill="#ffff80"/>
<rect x="791" y="174" width="1" height="1" fill="#ffff00"/>
<rect x="795" y="157" width="1" height="19" fill="#ffff80"/>
<rect x="794" y="162" width="3" height="10" fill="#ffff80"/>
<rect x="795" y="163" width="1" height="8" fill="#ffff00"/>
<rect x="799" y="155" width="1" height="17" fill="#ffff80"/>
<rect x="798" y="160" width="3" height="2" fill="#ffff80"/>
<rect x="803" y="158" width="1" height="46" fill="#00ffff"/>
<rect x="802" y="160" width="3" height="37" fill="#00ffff"/>
<rect x="803" y="161" width="1" height="35" fill="#90ffff"/>
<rect x="807" y="192" width="1" height="26" fill="#00ffff"/>
<rect x="806" y="197" width="3" height="14" fill="#00ffff"/>
<rect x="807" y="198" width="1" height="12" fill="#90ffff"/>
<rect x="811" y="200" width="1" height="16" fill="#ffff80"/>
<rect x="810" y="203" width="3" height="9" fill="#ffff80"/>
<rect x="811" y="204" width="1" height="7" fill="#ffff00"/>
<rect x="815" y="196" width="1" height="11" fill="#00ffff"/>
<rect x="814" y="203" width="3" height="1" fill="#00ffff"/>
<rect x="819" y="202" width="1" height="22" fill="#00ffff"/>
<rect x="818" y="204" width="3" height="18" fill="#00ffff"/>
<rect x="819" y="205" width="1" height="16" fill="#90ffff"/>
<rect x="823" y="208" width="1" height="19" fill="#ffff80"/>
<rect x="822" y="212" width="3" height="9" fill="#ffff80"/>
<rect x="823" y="213" width="1" height="7" fill="#ffff00"/>
<rect x="827" y="208" width="1" height="6" fill="#00ffff"/>
<rect x="826" y="212" width="3" height="1" fill="#00ffff"/>
<rect x="831" y="207" width="1" height="7" fill="#ffff80"/>
<rect x="830" y="210" width="3" height="4" fill="#ffff80"/>
<rect x="831" y="211" width="1" height="2" fill="#ffff00"/>
<rect x="835" y="204" width="1" height="7" fill="#ffff80"/>
<rect x="834" y="209" width="3" height="1" fill="#ffff80"/>
<rect x="839" y="197" width="1" height="12" fill="#ffff80"/>
<rect x="838" y="198" width="3" height="10" fill="#ffff80"/>
<rect x="839" y="199" width="1" height="8" fill="#ffff00"/>
<rect x="843" y="183" width="1" height="17" fill="#ffff80"/>
<rect x="842" y="190" width="3" height="8" fill="#ffff80"/>
<rect x="843" y="191" width="1" height="6" fill="#ffff00"/>
<rect x="847" y="182" width="1" height="8" fill="#ffff80"/>
<rect x="846" y="188" width="3" height="1" fill="#ffff80"/>
<rect x="851" y="175" width="1" height="13" fill="#ffff80"/>
<rect x="850" y="182" width="3" height="6" fill="#ffff80"/>
<rect x="851" y="183" width="1" height="4" fill="#ffff00"/>
<rect x="855" y="168" width="1" height="14" fill="#ffff80"/>
<rect x="854" y="172" width="3" height="10" fill="#ffff80"/>
<rect x="855" y="173" width="1" height="8" fill="#ffff00"/>
<rect x="859" y="170" width="1" height="17" fill="#00ffff"/>
<rect x="858" y="171" width="3" height="12" fill="#00ffff"/>
<rect x="859" y="172" width="1" height="10" fill="#90ffff"/>
<rect x="863" y="165" width="1" height="20" fill="#ffff80"/>
<rect x="862" y="169" width="3" height="15" fill="#ffff80"/>
<rect x="863" y="170" width="1" height="13" fill="#ffff00"/>
<rect x="867" y="167" width="1" height="10" fill="#00ffff"/>
<rect x="866" y="170" width="3" height="4" fill="#00ffff"/>
<rect x="867" y="171" width="1" height="2" fill="#90ffff"/>
<rect x="871" y="161" width="1" height="19" fill="#ffff80"/>
<rect x="870" y="172" width="3" height="2" fill="#ffff80"/>
<rect x="875" y="167" width="1" height="17" fill="#00ffff"/>
<rect x="874" y="172" width="3" height="8" fill="#00ffff"/>
<rect x="875" y="173" width="1" height="6" fill="#90ffff"/>
<rect x="879" y="159" width="1" height="24" fill="#ffff80"/>
<rect x="878" y="161" width="3" height="19" fill="#ffff80"/>
<rect x="879" y="162" width="1" height="17" fill="#ffff00"/>
<rect x="883" y="159" width="1" height="26" fill="#00ffff"/>
<rect x="882" y="160" width="3" height="20" fill="#00ffff"/>
<rect x="883" y="161" width="1" height="18" fill="#90ffff"/>
<rect x="887" y="162" width="1" height="18" fill="#ffff80"/>
<rect x="886" y="168" width="3" height="11" fill="#ffff80"/>
<rect x="887" y="169" width="1" height="9" fill="#ffff00"/>
<rect x="891" y="151" width="1" height="17" fill="#ffff80"/>
<rect x="890" y="168" width="3" height="1" fill="#ffff80"/>
<rect x="895" y="148" width="1" height="25" fill="#ffff80"/>
<rect x="894" y="151" width="3" height="15" fill="#ffff80"/>
<rect x="895" y="152" width="1" height="13" fill="#ffff00"/>
<rect x="899" y="146" width="1" height="19" fill="#00ffff"/>
<rect x="898" y="153" width="3" height="11" fill="#00ffff"/>
<rect x="899" y="154" width="1" height="9" fill="#90ffff"/>
<rect x="903" y="142" width="1" height="22" fill="#ffff80"/>
<rect x="902" y="142" width="3" height="22" fill="#ffff80"/>
<rect x="903" y="143" width="1" height="20" fill="#ffff00"/>
<rect x="907" y="134" width="1" height="13" fill="#ffff80"/>
<rect x="906" y="139" width="3" height="3" fill="#ffff80"/>
<rect x="907" y="140" width="1" height="1" fill="#ffff00"/>
<rect x="911" y="137" width="1" height="9" fill="#00ffff"/>
<rect x="910" y="140" width="3" height="5" fill="#00ffff"/>
<rect x="911" y="141" width="1" height="3" fill="#90ffff"/>
<rect x="915" y="133" width="1" height="13" fill="#ffff80"/>
<rect x="914" y="134" width="3" height="11" fill="#ffff80"/>
<rect x="915" y="135" width="1" height="9" fill="#ffff00"/>
<rect x="919" y="132" width="1" height="6" fill="#ffff80"/>
<rect x="918" y="133" width="3" height="2" fill="#ffff80"/>
<rect x="923" y="135" width="1" height="3" fill="#00ffff"/>
<rect x="922" y="136" width="3" height="2" fill="#00ffff"/>
<rect x="927" y="135" width="1" height="6" fill="#00ffff"/>
<rect x="926" y="138" width="3" height="2" fill="#00ffff"/>
<rect x="931" y="138" width="1" height="6" fill="#00ffff"/>
<rect x="930" y="140" width="3" height="4" fill="#00ffff"/>
<rect x="931" y="141" width="1" height="2" fill="#90ffff"/>
<rect x="935" y="137" width="1" height="25" fill="#00ffff"/>
<rect x="934" y="144" width="3" height="18" fill="#00ffff"/>
<rect x="935" y="145" width="1" height="16" fill="#90ffff"/>
<rect x="939" y="154" width="1" height="8" fill="#ffff80"/>
<rect x="938" y="155" width="3" height="7" fill="#ffff80"/>
<rect x="939" y="156" width="1" height="5" fill="#ffff00"/>
<rect x="943" y="139" width="1" height="23" fill="#ffff80"/>
<rect x="942" y="140" width="3" height="21" fill="#ffff80"/>
<rect x="943" y="141" width="1" height="19" fill="#ffff00"/>
<rect x="947" y="128" width="1" height="13" fill="#ffff80"/>
<rect x="946" y="131" width="3" height="10" fill="#ffff80"/>
<rect x="947" y="132" width="1" height="8" fill="#ffff00"/>
<rect x="951" y="122" width="1" height="10" fill="#ffff80"/>
<rect x="950" y="126" width="3" height="4" fill="#ffff80"/>
<rect x="951" y="127" width="1" height="2" fill="#ffff00"/>
<rect x="955" y="121" width="1" height="14" fill="#00ffff"/>
<rect x="954" y="126" width="3" height="3" fill="#00ffff"/>
<rect x="955" y="127" width="1" height="1" fill="#90ffff"/>
<rect x="959" y="114" width="1" height="18" fill="#ffff80"/>
<rect x="958" y="117" width="3" height="12" fill="#ffff80"/>
<rect x="959" y="118" width="1" height="10" fill="#ffff00"/>
<rect x="963" y="106" width="1" height="10" fill="#ffff80"/>
<rect x="962" y="110" width="3" height="7" fill="#ffff80"/>
<rect x="963" y="111" width="1" height="5" fill="#ffff00"/>
<rect x="967" y="109" width="1" height="19" fill="#00ffff"/>
<rect x="966" y="110" width="3" height="18" fill="#00ffff"/>
<rect x="967" y="111" width="1" height="16" fill="#90ffff"/>
<rect x="971" y="123" width="1" height="6" fill="#ffff80"/>
<rect x="970" y="128" width="3" height="1" fill="#ffff80"/>
<rect x="975" y="122" width="1" height="10" fill="#00ffff"/>
<rect x="974" y="128" width="3" height="3" fill="#00ffff"/>
<rect x="975" y="129" width="1" height="1" fill="#90ffff"/>
<rect x="979" y="128" width="1" height="26" fill="#00ffff"/>
<rect x="978" y="131" width="3" height="19" fill="#00ffff"/>
<rect x="979" y="132" width="1" height="17" fill="#90ffff"/>
<rect x="983" y="146" width="1" height="30" fill="#00ffff"/>
<rect x="982" y="149" width="3" height="16" fill="#00ffff"/>
<rect x="983" y="150" width="1" height="14" fill="#90ffff"/>
<rect x="987" y="160" width="1" height="61" fill="#00ffff"/>
<rect x="986" y="165" width="3" height="54" fill="#00ffff"/>
<rect x="987" y="166" width="1" height="52" fill="#90ffff"/>
<rect x="991" y="204" width="1" height="37" fill="#ffff80"/>
<rect x="990" y="208" width="3" height="11" fill="#ffff80"/>
<rect x="991" y="209" width="1" height="9" fill="#ffff00"/>
<rect x="995" y="206" width="1" height="8" fill="#00ffff"/>
<rect x="994" y="207" width="3" height="7" fill="#00ffff"/>
<rect x="995" y="208" width="1" height="5" fill="#90ffff"/>
<rect x="999" y="209" width="1" height="19" fill="#00ffff"/>
<rect x="998" y="214" width="3" height="6" fill="#00ffff"/>
<rect x="999" y="215" width="1" height="4" fill="#90ffff"/>
<rect x="1003" y="220" width="1" height="12" fill="#00ffff"/>
<rect x="1002" y="221" width="3" height="7" fill="#00ffff"/>
<rect x="1003" y="222" width="1" height="5" fill="#90ffff"/>
<rect x="1007" y="216" width="1" height="13" fill="#ffff80"/>
<rect x="1006" y="224" width="3" height="4" fill="#ffff80"/>
<rect x="1007" y="225" width="1" height="2" fill="#ffff00"/>
<rect x="1011" y="222" width="1" height="5" fill="#00ffff"/>
<rect x="1010" y="224" width="3" height="1" fill="#00ffff"/>
<rect x="1015" y="216" width="1" height="8" fill="#ffff80"/>
<rect x="1014" y="218" width="3" height="6" fill="#ffff80"/>
<rect x="1015" y="219" width="1" height="4" fill="#ffff00"/>
<rect x="1019" y="206" width="1" height="11" fill="#ffff80"/>
<rect x="1018" y="213" width="3" height="4" fill="#ffff80"/>
<rect x="1019" y="214" width="1" height="2" fill="#ffff00"/>
<rect x="1023" y="207" width="1" height="10" fill="#00ffff"/>
<rect x="1022" y="208" width="3" height="1" fill="#00ffff"/>
<rect x="1027" y="194" width="1" height="15" fill="#ffff80"/>
<rect x="1026" y="202" width="3" height="7" fill="#ffff80"/>
<rect x="1027" y="203" width="1" height="5" fill="#ffff00"/>
<rect x="1031" y="199" width="1" height="12" fill="#00ffff"/>
<rect x="1030" y="202" width="3" height="1" fill="#00ffff"/>
<rect x="1035" y="200" width="1" height="7" fill="#00ffff"/>
<rect x="1034" y="203" width="3" height="1" fill="#00ffff"/>
<rect x="1039" y="192" width="1" height="12" fill="#ffff80"/>
<rect x="1038" y="194" width="3" height="10" fill="#ffff80"/>
<rect x="1039" y="195" width="1" height="8" fill="#ffff00"/>
<rect x="1043" y="185" width="1" height="10" fill="#ffff80"/>
<rect x="1042" y="189" width="3" height="4" fill="#ffff80"/>
<rect x="1043" y="190" width="1" height="2" fill="#ffff00"/>
<rect x="1047" y="166" width="1" height="22" fill="#ffff80"/>
<rect x="1046" y="171" width="3" height="17" fill="#ffff80"/>
<rect x="1047" y="172" width="1" height="15" fill="#ffff00"/>
<rect x="1051" y="165" width="1" height="13" fill="#00ffff"/>
<rect x="1050" y="171" width="3" height="4" fill="#00ffff"/>
<rect x="1051" y="172" width="1" height="2" fill="#90ffff"/>
<rect x="1055" y="162" width="1" height="15" fill="#ffff80"/>
<rect x="1054" y="166" width="3" height="9" fill="#ffff80"/>
<rect x="1055" y="167" width="1" height="7" fill="#ffff00"/>
<rect x="1059" y="159" width="1" height="9" fill="#00ffff"/>
<rect x="1058" y="166" width="3" height="1" fill="#00ffff"/>
<rect x="1063" y="159" width="1" height="7" fill="#ffff80"/>
<rect x="1062" y="163" width="3" height="3" fill="#ffff80"/>
<rect x="1063" y="164" width="1" height="1" fill="#ffff00"/>
<rect x="1067" y="158" width="1" height="12" fill="#ffff80"/>
<rect x="1066" y="161" width="3" height="5" fill="#ffff80"/>
<rect x="1067" y="162" width="1" height="3" fill="#ffff00"/>
<rect x="1071" y="153" width="1" height="18" fill="#ffff80"/>
<rect x="1070" y="160" width="3" height="1" fill="#ffff80"/>
<rect x="1075" y="148" width="1" height="36" fill="#00ffff"/>
<rect x="1074" y="161" width="3" height="14" fill="#00ffff"/>
<rect x="1075" y="162" width="1" height="12" fill="#90ffff"/>
<rect x="1079" y="167" width="1" height="37" fill="#00ffff"/>
<rect x="1078" y="175" width="3" height="2" fill="#00ffff"/>
<rect x="1083" y="172" width="1" height="20" fill="#00ffff"/>
<rect x="1082" y="178" width="3" height="4" fill="#00ffff"/>
<rect x="1083" y="179" width="1" height="2" fill="#90ffff"/>
<rect x="1087" y="169" width="1" height="26" fill="#ffff80"/>
<rect x="1086" y="175" width="3" height="7" fill="#ffff80"/>
<rect x="1087" y="176" width="1" height="5" fill="#ffff00"/>
<rect x="1091" y="165" width="1" height="11" fill="#ffff80"/>
<rect x="1090" y="170" width="3" height="6" fill="#ffff80"/>
<rect x="1091" y="171" width="1" height="4" fill="#ffff00"/>
<rect x="1095" y="163" width="1" height="9" fill="#ffff80"/>
<rect x="1094" y="169" width="3" height="2" fill="#ffff80"/>
<rect x="1099" y="166" width="1" height="9" fill="#ffff80"/>
<rect x="1098" y="167" width="3" height="3" fill="#ffff80"/>
<rect x="1099" y="168" width="1" height="1" fill="#ffff00"/>
<rect x="1103" y="165" width="1" height="5" fill="#00ffff"/>
<rect x="1102" y="167" width="3" height="2" fill="#00ffff"/>
<rect x="1107" y="168" width="1" height="4" fill="#00ffff"/>
<rect x="1106" y="169" width="3" height="2" fill="#00ffff"/>
<rect x="1111" y="169" width="1" height="6" fill="#00ffff"/>
<rect x="1110" y="172" width="3" height="3" fill="#00ffff"/>
<rect x="1111" y="173" width="1" height="1" fill="#90ffff"/>
<rect x="1115" y="171" width="1" height="9" fill="#00ffff"/>
<rect x="1114" y="175" width="3" height="2" fill="#00ffff"/>
<rect x="1119" y="170" width="1" height="14" fill="#00ffff"/>
<rect x="1118" y="177" width="3" height="7" fill="#00ffff"/>
<rect x="1119" y="178" width="1" height="5" fill="#90ffff"/>
<rect x="1123" y="183" width="1" height="9" fill="#00ffff"/>
<rect x="1122" y="185" width="3" height="4" fill="#00ffff"/>
<rect x="1123" y="186" width="1" height="2" fill="#90ffff"/>
<rect x="1127" y="188" width="1" height="11" fill="#00ffff"/>
<rect x="1126" y="189" width="3" height="6" fill="#00ffff"/>
<rect x="1127" y="190" width="1" height="4" fill="#90ffff"/>
<rect x="1131" y="190" width="1" height="10" fill="#00ffff"/>
<rect x="1130" y="195" width="3" height="2" fill="#00ffff"/>
<rect x="1135" y="184" width="1" height="12" fill="#ffff80"/>
<rect x="1134" y="189" width="3" height="7" fill="#ffff80"/>
<rect x="1135" y="190" width="1" height="5" fill="#ffff00"/>
<rect x="1139" y="177" width="1" height="20" fill="#ffff80"/>
<rect x="1138" y="180" width="3" height="9" fill="#ffff80"/>
<rect x="1139" y="181" width="1" height="7" fill="#ffff00"/>
<rect x="1143" y="178" width="1" height="17" fill="#00ffff"/>
<rect x="1142" y="178" width="3" height="16" fill="#00ffff"/>
<rect x="1143" y="179" width="1" height="14" fill="#90ffff"/>
<rect x="1147" y="192" width="1" height="22" fill="#00ffff"/>
<rect x="1146" y="195" width="3" height="19" fill="#00ffff"/>
<rect x="1147" y="196" width="1" height="17" fill="#90ffff"/>
<rect x="1151" y="208" width="1" height="11" fill="#ffff80"/>
<rect x="1150" y="209" width="3" height="5" fill="#ffff80"/>
<rect x="1151" y="210" width="1" height="3" fill="#ffff00"/>
<rect x="1155" y="204" width="1" height="15" fill="#ffff80"/>
<rect x="1154" y="206" width="3" height="3" fill="#ffff80"/>
<rect x="1155" y="207" width="1" height="1" fill="#ffff00"/>
<rect x="1159" y="186" width="1" height="22" fill="#ffff80"/>
<rect x="1158" y="201" width="3" height="5" fill="#ffff80"/>
<rect x="1159" y="202" width="1" height="3" fill="#ffff00"/>
<rect x="1163" y="177" width="1" height="25" fill="#ffff80"/>
<rect x="1162" y="182" width="3" height="19" fill="#ffff80"/>
<rect x="1163" y="183" width="1" height="17" fill="#ffff00"/>
<rect x="1167" y="178" width="1" height="19" fill="#00ffff"/>
<rect x="1166" y="180" width="3" height="13" fill="#00ffff"/>
<rect x="1167" y="181" width="1" height="11" fill="#90ffff"/>
<rect x="1171" y="155" width="1" height="35" fill="#ffff80"/>
<rect x="1170" y="162" width="3" height="28" fill="#ffff80"/>
<rect x="1171" y="163" width="1" height="26" fill="#ffff00"/>
<rect x="1175" y="151" width="1" height="15" fill="#00ffff"/>
<rect x="1174" y="162" width="3" height="4" fill="#00ffff"/>
<rect x="1175" y="163" width="1" height="2" fill="#90ffff"/>
<rect x="1179" y="159" width="1" height="14" fill="#ffff80"/>
<rect x="1178" y="160" width="3" height="6" fill="#ffff80"/>
<rect x="1179" y="161" width="1" height="4" fill="#ffff00"/>
<rect x="1183" y="143" width="1" height="17" fill="#ffff80"/>
<rect x="1182" y="146" width="3" height="14" fill="#ffff80"/>
<rect x="1183" y="147" width="1" height="12" fill="#ffff00"/>
<rect x="1187" y="144" width="1" height="8" fill="#00ffff"/>
<rect x="1186" y="146" width="3" height="6" fill="#00ffff"/>
<rect x="1187" y="147" width="1" height="4" fill="#90ffff"/>
<rect x="1191" y="145" width="1" height="11" fill="#ffff80"/>
<rect x="1190" y="151" width="3" height="1" fill="#ffff80"/>
<rect x="1195" y="136" width="1" height="15" fill="#ffff80"/>
<rect x="1194" y="140" width="3" height="11" fill="#ffff80"/>
<rect x="1195" y="141" width="1" height="9" fill="#ffff00"/>
<line x1="65" y1="139.5" x2="1288" y2="139.5" stroke="#f0a030" stroke-width="1" stroke-dasharray="3,3" shape-rendering="crispEdges"/>
<text x="1288" y="41" fill="#ff0000" font-size="12" text-anchor="end" font-weight="bold" font-family="'Liberation Sans', 'Noto Sans CJK SC', sans-serif">2.236 \ 2780.91</text>
<text x="1288" y="82" fill="#ff0000" font-size="12" text-anchor="end" font-weight="bold" font-family="'Liberation Sans', 'Noto Sans CJK SC', sans-serif">2.000 \ 2765.82</text>
<text x="1288" y="104" fill="#ff0000" font-size="12" text-anchor="end" font-weight="bold" font-family="'Liberation Sans', 'Noto Sans CJK SC', sans-serif">1.875 \ 2757.83</text>
<text x="1288" y="125" fill="#ff0000" font-size="12" text-anchor="end" font-weight="bold" font-family="'Liberation Sans', 'Noto Sans CJK SC', sans-serif">1.750 \ 2749.84</text>
<text x="1288" y="148" fill="#ff0000" font-size="12" text-anchor="end" font-weight="bold" font-family="'Liberation Sans', 'Noto Sans CJK SC', sans-serif">1.618 \ 2741.40</text>
<text x="1288" y="169" fill="#ff0000" font-size="12" text-anchor="end" font-weight="bold" font-family="'Liberation Sans', 'Noto Sans CJK SC', sans-serif">1.500 \ 2733.85</text>
<text x="1288" y="189" fill="#ff0000" font-size="12" text-anchor="end" font-weight="bold" font-family="'Liberation Sans', 'Noto Sans CJK SC', sans-serif">1.382 \ 2726.31</text>
<text x="1288" y="215" fill="#ff0000" font-size="12" text-anchor="end" font-weight="bold" font-family="'Liberation Sans', 'Noto Sans CJK SC', sans-serif">1.236 \ 2716.97</text>
<text x="1288" y="256" fill="#ff0000" font-size="12" text-anchor="end" font-weight="bold" font-family="'Liberation Sans', 'Noto Sans CJK SC', sans-serif">1.000 \ 2701.88</text>
<text x="1288" y="322" fill="#ff0000" font-size="12" text-anchor="end" font-weight="bold" font-family="'Liberation Sans', 'Noto Sans CJK SC', sans-serif">0.618 \ 2677.45</text>
<text x="1288" y="342" fill="#ff0000" font-size="12" text-anchor="end" font-weight="bold" font-family="'Liberation Sans', 'Noto Sans CJK SC', sans-serif">0.500 \ 2669.91</text>
<text x="968.5" y="104" fill="#f4f474" font-size="12.5" text-anchor="start" font-weight="bold" font-family="'Liberation Sans', 'Noto Sans CJK SC', sans-serif" textLength="44" lengthAdjust="spacingAndGlyphs">2758.33</text>
<rect x="961" y="107" width="7" height="1" fill="#eeeeee"/><rect x="963" y="104.5" width="1" height="4" fill="#eeeeee"/>
<text x="155.5" y="542" fill="#22ffff" font-size="13" text-anchor="start" font-weight="bold" font-family="'Liberation Sans', 'Noto Sans CJK SC', sans-serif" textLength="45" lengthAdjust="spacingAndGlyphs">2602.54</text>
<rect x="149" y="530" width="7" height="1" fill="#eeeeee"/><rect x="151" y="527.5" width="1" height="4.5" fill="#eeeeee"/>
<text x="869" y="120" fill="#4646c8" font-size="22" text-anchor="start" font-weight="normal" font-family="'Liberation Sans', 'Noto Sans CJK SC', sans-serif" textLength="70" lengthAdjust="spacingAndGlyphs">易汇通</text>
<rect x="67" y="672" width="1" height="4" fill="#ffff80"/>
<rect x="71" y="670" width="1" height="6" fill="#ffff80"/>
<rect x="75" y="674" width="1" height="2" fill="#ffff80"/>
<rect x="79" y="676" width="1" height="1" fill="#ffff80"/>
<rect x="83" y="676" width="1" height="3" fill="#00ffff"/>
<rect x="87" y="676" width="1" height="2" fill="#00ffff"/>
<rect x="91" y="676" width="1" height="2" fill="#00ffff"/>
<rect x="95" y="676" width="1" height="1" fill="#ffff80"/>
<rect x="99" y="674" width="1" height="2" fill="#ffff80"/>
<rect x="103" y="672" width="1" height="4" fill="#ffff80"/>
<rect x="107" y="670" width="1" height="6" fill="#ffff80"/>
<rect x="111" y="662" width="1" height="14" fill="#ffff80"/>
<rect x="115" y="661" width="1" height="15" fill="#ffff80"/>
<rect x="119" y="659" width="1" height="17" fill="#ffff80"/>
<rect x="123" y="658" width="1" height="18" fill="#ffff80"/>
<rect x="127" y="659" width="1" height="17" fill="#ffff80"/>
<rect x="131" y="656" width="1" height="20" fill="#ffff80"/>
<rect x="135" y="656" width="1" height="20" fill="#ffff80"/>
<rect x="139" y="655" width="1" height="21" fill="#ffff80"/>
<rect x="143" y="654" width="1" height="22" fill="#ffff80"/>
<rect x="147" y="660" width="1" height="16" fill="#ffff80"/>
<rect x="151" y="652" width="1" height="24" fill="#ffff80"/>
<rect x="155" y="647" width="1" height="29" fill="#ffff80"/>
<rect x="159" y="646" width="1" height="30" fill="#ffff80"/>
<rect x="163" y="649" width="1" height="27" fill="#ffff80"/>
<rect x="167" y="657" width="1" height="19" fill="#ffff80"/>
<rect x="171" y="659" width="1" height="17" fill="#ffff80"/>
<rect x="175" y="657" width="1" height="19" fill="#ffff80"/>
<rect x="179" y="655" width="1" height="21" fill="#ffff80"/>
<rect x="183" y="655" width="1" height="21" fill="#ffff80"/>
<rect x="187" y="658" width="1" height="18" fill="#ffff80"/>
<rect x="191" y="655" width="1" height="21" fill="#ffff80"/>
<rect x="195" y="654" width="1" height="22" fill="#ffff80"/>
<rect x="199" y="653" width="1" height="23" fill="#ffff80"/>
<rect x="203" y="648" width="1" height="28" fill="#ffff80"/>
<rect x="207" y="646" width="1" height="30" fill="#ffff80"/>
<rect x="211" y="645" width="1" height="31" fill="#ffff80"/>
<rect x="215" y="648" width="1" height="28" fill="#ffff80"/>
<rect x="219" y="657" width="1" height="19" fill="#ffff80"/>
<rect x="223" y="659" width="1" height="17" fill="#ffff80"/>
<rect x="227" y="668" width="1" height="8" fill="#ffff80"/>
<rect x="231" y="675" width="1" height="1" fill="#ffff80"/>
<rect x="235" y="676" width="1" height="3" fill="#00ffff"/>
<rect x="239" y="676" width="1" height="3" fill="#00ffff"/>
<rect x="243" y="676" width="1" height="4" fill="#00ffff"/>
<rect x="247" y="674" width="1" height="2" fill="#ffff80"/>
<rect x="251" y="669" width="1" height="7" fill="#ffff80"/>
<rect x="255" y="662" width="1" height="14" fill="#ffff80"/>
<rect x="259" y="657" width="1" height="19" fill="#ffff80"/>
<rect x="263" y="657" width="1" height="19" fill="#ffff80"/>
<rect x="267" y="660" width="1" height="16" fill="#ffff80"/>
<rect x="271" y="666" width="1" height="10" fill="#ffff80"/>
<rect x="275" y="670" width="1" height="6" fill="#ffff80"/>
<rect x="279" y="676" width="1" height="4" fill="#00ffff"/>
<rect x="283" y="676" width="1" height="15" fill="#00ffff"/>
<rect x="287" y="676" width="1" height="17" fill="#00ffff"/>
<rect x="291" y="676" width="1" height="27" fill="#00ffff"/>
<rect x="295" y="676" width="1" height="21" fill="#00ffff"/>
<rect x="299" y="676" width="1" height="17" fill="#00ffff"/>
<rect x="303" y="676" width="1" height="10" fill="#00ffff"/>
<rect x="307" y="676" width="1" height="7" fill="#00ffff"/>
<rect x="311" y="676" width="1" height="1" fill="#00ffff"/>
<rect x="315" y="676" width="1" height="1" fill="#00ffff"/>
<rect x="319" y="676" width="1" height="3" fill="#00ffff"/>
<rect x="323" y="676" width="1" height="5" fill="#00ffff"/>
<rect x="327" y="676" width="1" height="10" fill="#00ffff"/>
<rect x="331" y="676" width="1" height="16" fill="#00ffff"/>
<rect x="335" y="676" width="1" height="21" fill="#00ffff"/>
<rect x="339" y="676" width="1" height="21" fill="#00ffff"/>
<rect x="343" y="676" width="1" height="27" fill="#00ffff"/>
<rect x="347" y="676" width="1" height="30" fill="#00ffff"/>
<rect x="351" y="676" width="1" height="29" fill="#00ffff"/>
<rect x="355" y="676" width="1" height="28" fill="#00ffff"/>
<rect x="359" y="676" width="1" height="26" fill="#00ffff"/>
<rect x="363" y="676" width="1" height="20" fill="#00ffff"/>
<rect x="367" y="676" width="1" height="19" fill="#00ffff"/>
<rect x="371" y="676" width="1" height="16" fill="#00ffff"/>
<rect x="375" y="676" width="1" height="15" fill="#00ffff"/>
<rect x="379" y="676" width="1" height="13" fill="#00ffff"/>
<rect x="383" y="676" width="1" height="12" fill="#00ffff"/>
<rect x="387" y="676" width="1" height="9" fill="#00ffff"/>
<rect x="391" y="676" width="1" height="11" fill="#00ffff"/>
<rect x="395" y="676" width="1" height="13" fill="#00ffff"/>
<rect x="399" y="676" width="1" height="17" fill="#00ffff"/>
<rect x="403" y="676" width="1" height="11" fill="#00ffff"/>
<rect x="407" y="676" width="1" height="6" fill="#00ffff"/>
<rect x="411" y="673" width="1" height="3" fill="#ffff80"/>
<rect x="415" y="669" width="1" height="7" fill="#ffff80"/>
<rect x="419" y="668" width="1" height="8" fill="#ffff80"/>
<rect x="423" y="672" width="1" height="4" fill="#ffff80"/>
<rect x="427" y="673" width="1" height="3" fill="#ffff80"/>
<rect x="431" y="675" width="1" height="1" fill="#ffff80"/>
<rect x="435" y="666" width="1" height="10" fill="#ffff80"/>
<rect x="439" y="656" width="1" height="20" fill="#ffff80"/>
<rect x="443" y="653" width="1" height="23" fill="#ffff80"/>
<rect x="447" y="651" width="1" height="25" fill="#ffff80"/>
<rect x="451" y="650" width="1" height="26" fill="#ffff80"/>
<rect x="455" y="654" width="1" height="22" fill="#ffff80"/>
<rect x="459" y="657" width="1" height="19" fill="#ffff80"/>
<rect x="463" y="661" width="1" height="15" fill="#ffff80"/>
<rect x="467" y="666" width="1" height="10" fill="#ffff80"/>
<rect x="471" y="670" width="1" height="6" fill="#ffff80"/>
<rect x="475" y="666" width="1" height="10" fill="#ffff80"/>
<rect x="479" y="664" width="1" height="12" fill="#ffff80"/>
<rect x="483" y="665" width="1" height="11" fill="#ffff80"/>
<rect x="487" y="667" width="1" height="9" fill="#ffff80"/>
<rect x="491" y="667" width="1" height="9" fill="#ffff80"/>
<rect x="495" y="660" width="1" height="16" fill="#ffff80"/>
<rect x="499" y="658" width="1" height="18" fill="#ffff80"/>
<rect x="503" y="655" width="1" height="21" fill="#ffff80"/>
<rect x="507" y="655" width="1" height="21" fill="#ffff80"/>
<rect x="511" y="662" width="1" height="14" fill="#ffff80"/>
<rect x="515" y="664" width="1" height="12" fill="#ffff80"/>
<rect x="519" y="663" width="1" height="13" fill="#ffff80"/>
<rect x="523" y="670" width="1" height="6" fill="#ffff80"/>
<rect x="527" y="676" width="1" height="4" fill="#00ffff"/>
<rect x="531" y="676" width="1" height="12" fill="#00ffff"/>
<rect x="535" y="676" width="1" height="12" fill="#00ffff"/>
<rect x="539" y="676" width="1" height="12" fill="#00ffff"/>
<rect x="543" y="676" width="1" height="13" fill="#00ffff"/>
<rect x="547" y="676" width="1" height="13" fill="#00ffff"/>
<rect x="551" y="676" width="1" height="14" fill="#00ffff"/>
<rect x="555" y="676" width="1" height="15" fill="#00ffff"/>
<rect x="559" y="676" width="1" height="15" fill="#00ffff"/>
<rect x="563" y="676" width="1" height="10" fill="#00ffff"/>
<rect x="567" y="676" width="1" height="4" fill="#00ffff"/>
<rect x="571" y="676" width="1" height="1" fill="#00ffff"/>
<rect x="575" y="676" width="1" height="3" fill="#00ffff"/>
<rect x="579" y="676" width="1" height="4" fill="#00ffff"/>
<rect x="583" y="676" width="1" height="1" fill="#00ffff"/>
<rect x="587" y="676" width="1" height="1" fill="#00ffff"/>
<rect x="591" y="676" width="1" height="1" fill="#00ffff"/>
<rect x="595" y="676" width="1" height="2" fill="#00ffff"/>
<rect x="599" y="676" width="1" height="4" fill="#00ffff"/>
<rect x="603" y="674" width="1" height="2" fill="#ffff80"/>
<rect x="607" y="676" width="1" height="2" fill="#00ffff"/>
<rect x="611" y="676" width="1" height="5" fill="#00ffff"/>
<rect x="615" y="675" width="1" height="1" fill="#ffff80"/>
<rect x="619" y="665" width="1" height="11" fill="#ffff80"/>
<rect x="623" y="663" width="1" height="13" fill="#ffff80"/>
<rect x="627" y="663" width="1" height="13" fill="#ffff80"/>
<rect x="631" y="665" width="1" height="11" fill="#ffff80"/>
<rect x="635" y="670" width="1" height="6" fill="#ffff80"/>
<rect x="639" y="671" width="1" height="5" fill="#ffff80"/>
<rect x="643" y="672" width="1" height="4" fill="#ffff80"/>
<rect x="647" y="674" width="1" height="2" fill="#ffff80"/>
<rect x="651" y="675" width="1" height="1" fill="#ffff80"/>
<rect x="655" y="676" width="1" height="2" fill="#00ffff"/>
<rect x="659" y="667" width="1" height="9" fill="#ffff80"/>
<rect x="663" y="659" width="1" height="17" fill="#ffff80"/>
<rect x="667" y="654" width="1" height="22" fill="#ffff80"/>
<rect x="671" y="652" width="1" height="24" fill="#ffff80"/>
<rect x="675" y="652" width="1" height="24" fill="#ffff80"/>
<rect x="679" y="658" width="1" height="18" fill="#ffff80"/>
<rect x="683" y="668" width="1" height="8" fill="#ffff80"/>
<rect x="687" y="672" width="1" height="4" fill="#ffff80"/>
<rect x="691" y="671" width="1" height="5" fill="#ffff80"/>
<rect x="695" y="670" width="1" height="6" fill="#ffff80"/>
<rect x="699" y="674" width="1" height="2" fill="#ffff80"/>
<rect x="703" y="676" width="1" height="2" fill="#00ffff"/>
<rect x="707" y="676" width="1" height="1" fill="#00ffff"/>
<rect x="711" y="673" width="1" height="3" fill="#ffff80"/>
<rect x="715" y="675" width="1" height="1" fill="#ffff80"/>
<rect x="719" y="674" width="1" height="2" fill="#ffff80"/>
<rect x="723" y="676" width="1" height="1" fill="#00ffff"/>
<rect x="727" y="675" width="1" height="1" fill="#ffff80"/>
<rect x="731" y="675" width="1" height="1" fill="#ffff80"/>
<rect x="735" y="674" width="1" height="2" fill="#ffff80"/>
<rect x="739" y="673" width="1" height="3" fill="#ffff80"/>
<rect x="743" y="674" width="1" height="2" fill="#ffff80"/>
<rect x="747" y="676" width="1" height="2" fill="#00ffff"/>
<rect x="751" y="675" width="1" height="1" fill="#ffff80"/>
<rect x="755" y="671" width="1" height="5" fill="#ffff80"/>
<rect x="759" y="669" width="1" height="7" fill="#ffff80"/>
<rect x="763" y="670" width="1" height="6" fill="#ffff80"/>
<rect x="767" y="676" width="1" height="2" fill="#00ffff"/>
<rect x="771" y="676" width="1" height="3" fill="#00ffff"/>
<rect x="775" y="676" width="1" height="4" fill="#00ffff"/>
<rect x="779" y="676" width="1" height="4" fill="#00ffff"/>
<rect x="783" y="676" width="1" height="3" fill="#00ffff"/>
<rect x="787" y="676" width="1" height="3" fill="#00ffff"/>
<rect x="791" y="676" width="1" height="4" fill="#00ffff"/>
<rect x="795" y="676" width="1" height="1" fill="#ffff80"/>
<rect x="799" y="675" width="1" height="1" fill="#ffff80"/>
<rect x="803" y="676" width="1" height="13" fill="#00ffff"/>
<rect x="807" y="676" width="1" height="26" fill="#00ffff"/>
<rect x="811" y="676" width="1" height="31" fill="#00ffff"/>
<rect x="815" y="676" width="1" height="34" fill="#00ffff"/>
<rect x="819" y="676" width="1" height="41" fill="#00ffff"/>
<rect x="823" y="676" width="1" height="41" fill="#00ffff"/>
<rect x="827" y="676" width="1" height="39" fill="#00ffff"/>
<rect x="831" y="676" width="1" height="36" fill="#00ffff"/>
<rect x="835" y="676" width="1" height="32" fill="#00ffff"/>
<rect x="839" y="676" width="1" height="25" fill="#00ffff"/>
<rect x="843" y="676" width="1" height="16" fill="#00ffff"/>
<rect x="847" y="676" width="1" height="9" fill="#00ffff"/>
<rect x="851" y="676" width="1" height="3" fill="#00ffff"/>
<rect x="855" y="670" width="1" height="6" fill="#ffff80"/>
<rect x="859" y="670" width="1" height="6" fill="#ffff80"/>
<rect x="863" y="666" width="1" height="10" fill="#ffff80"/>
<rect x="867" y="666" width="1" height="10" fill="#ffff80"/>
<rect x="871" y="665" width="1" height="11" fill="#ffff80"/>
<rect x="875" y="669" width="1" height="7" fill="#ffff80"/>
<rect x="879" y="665" width="1" height="11" fill="#ffff80"/>
<rect x="883" y="670" width="1" height="6" fill="#ffff80"/>
<rect x="887" y="670" width="1" height="6" fill="#ffff80"/>
<rect x="891" y="670" width="1" height="6" fill="#ffff80"/>
<rect x="895" y="666" width="1" height="10" fill="#ffff80"/>
<rect x="899" y="668" width="1" height="8" fill="#ffff80"/>
<rect x="903" y="663" width="1" height="13" fill="#ffff80"/>
<rect x="907" y="660" width="1" height="16" fill="#ffff80"/>
<rect x="911" y="661" width="1" height="15" fill="#ffff80"/>
<rect x="915" y="660" width="1" height="16" fill="#ffff80"/>
<rect x="919" y="660" width="1" height="16" fill="#ffff80"/>
<rect x="923" y="663" width="1" height="13" fill="#ffff80"/>
<rect x="927" y="667" width="1" height="9" fill="#ffff80"/>
<rect x="931" y="672" width="1" height="4" fill="#ffff80"/>
<rect x="935" y="676" width="1" height="7" fill="#00ffff"/>
<rect x="939" y="676" width="1" height="13" fill="#00ffff"/>
<rect x="943" y="676" width="1" height="10" fill="#00ffff"/>
<rect x="947" y="676" width="1" height="4" fill="#00ffff"/>
<rect x="951" y="676" width="1" height="1" fill="#00ffff"/>
<rect x="955" y="675" width="1" height="1" fill="#ffff80"/>
<rect x="959" y="670" width="1" height="6" fill="#ffff80"/>
<rect x="963" y="667" width="1" height="9" fill="#ffff80"/>
<rect x="967" y="671" width="1" height="5" fill="#ffff80"/>
<rect x="971" y="675" width="1" height="1" fill="#ffff80"/>
<rect x="975" y="676" width="1" height="3" fill="#00ffff"/>
<rect x="979" y="676" width="1" height="13" fill="#00ffff"/>
<rect x="983" y="676" width="1" height="23" fill="#00ffff"/>
<rect x="987" y="676" width="1" height="49" fill="#00ffff"/>
<rect x="991" y="676" width="1" height="59" fill="#00ffff"/>
<rect x="995" y="676" width="1" height="65" fill="#00ffff"/>
<rect x="999" y="676" width="1" height="67" fill="#00ffff"/>
<rect x="1003" y="676" width="1" height="67" fill="#00ffff"/>
<rect x="1007" y="676" width="1" height="63" fill="#00ffff"/>
<rect x="1011" y="676" width="1" height="56" fill="#00ffff"/>
<rect x="1015" y="676" width="1" height="48" fill="#00ffff"/>
<rect x="1019" y="676" width="1" height="37" fill="#00ffff"/>
<rect x="1023" y="676" width="1" height="27" fill="#00ffff"/>
<rect x="1027" y="676" width="1" height="16" fill="#00ffff"/>
<rect x="1031" y="676" width="1" height="9" fill="#00ffff"/>
<rect x="1035" y="676" width="1" height="2" fill="#00ffff"/>
<rect x="1039" y="669" width="1" height="7" fill="#ffff80"/>
<rect x="1043" y="662" width="1" height="14" fill="#ffff80"/>
<rect x="1047" y="651" width="1" height="25" fill="#ffff80"/>
<rect x="1051" y="647" width="1" height="29" fill="#ffff80"/>
<rect x="1055" y="642" width="1" height="34" fill="#ffff80"/>
<rect x="1059" y="641" width="1" height="35" fill="#ffff80"/>
<rect x="1063" y="641" width="1" height="35" fill="#ffff80"/>
<rect x="1067" y="641" width="1" height="35" fill="#ffff80"/>
<rect x="1071" y="642" width="1" height="34" fill="#ffff80"/>
<rect x="1075" y="650" width="1" height="26" fill="#ffff80"/>
<rect x="1079" y="657" width="1" height="19" fill="#ffff80"/>
<rect x="1083" y="664" width="1" height="12" fill="#ffff80"/>
<rect x="1087" y="666" width="1" height="10" fill="#ffff80"/>
<rect x="1091" y="666" width="1" height="10" fill="#ffff80"/>
<rect x="1095" y="667" width="1" height="9" fill="#ffff80"/>
<rect x="1099" y="667" width="1" height="9" fill="#ffff80"/>
<rect x="1103" y="667" width="1" height="9" fill="#ffff80"/>
<rect x="1107" y="670" width="1" height="6" fill="#ffff80"/>
<rect x="1111" y="673" width="1" height="3" fill="#ffff80"/>
<rect x="1115" y="676" width="1" height="2" fill="#00ffff"/>
<rect x="1119" y="676" width="1" height="6" fill="#00ffff"/>
<rect x="1123" y="676" width="1" height="9" fill="#00ffff"/>
<rect x="1127" y="676" width="1" height="15" fill="#00ffff"/>
<rect x="1131" y="676" width="1" height="17" fill="#00ffff"/>
<rect x="1135" y="676" width="1" height="15" fill="#00ffff"/>
<rect x="1139" y="676" width="1" height="8" fill="#00ffff"/>
<rect x="1143" y="676" width="1" height="12" fill="#00ffff"/>
<rect x="1147" y="676" width="1" height="18" fill="#00ffff"/>
<rect x="1151" y="676" width="1" height="18" fill="#00ffff"/>
<rect x="1155" y="676" width="1" height="20" fill="#00ffff"/>
<rect x="1159" y="676" width="1" height="16" fill="#00ffff"/>
<rect x="1163" y="676" width="1" height="5" fill="#00ffff"/>
<rect x="1167" y="676" width="1" height="2" fill="#00ffff"/>
<rect x="1171" y="664" width="1" height="12" fill="#ffff80"/>
<rect x="1175" y="658" width="1" height="18" fill="#ffff80"/>
<rect x="1179" y="653" width="1" height="23" fill="#ffff80"/>
<rect x="1183" y="646" width="1" height="30" fill="#ffff80"/>
<rect x="1187" y="646" width="1" height="30" fill="#ffff80"/>
<rect x="1191" y="646" width="1" height="30" fill="#ffff80"/>
<rect x="1195" y="645" width="1" height="31" fill="#ffff80"/>
<polyline points="66.7,713.6 82.4,712.9 93.5,712.9 107.0,710.7 118.1,705.1 131.5,698.4 145.0,690.5 156.1,681.6 167.3,671.5 178.5,666.0 189.7,659.2 200.8,652.5 212.0,641.4 223.2,633.1 234.4,632.0 245.6,632.0 256.7,626.8 267.9,622.4 276.9,621.2 288.0,626.8 301.4,634.7 312.6,635.3 323.8,636.2 335.0,641.4 346.2,649.2 350.0,654.3 361.2,661.5 372.4,667.1 383.5,671.5 394.7,676.0 405.9,679.4 417.1,678.7 430.5,677.8 443.9,671.1 455.1,662.6 466.3,657.0 477.4,653.7 490.8,649.6 504.3,642.5 517.7,635.8 526.6,634.7 540.0,639.1 553.4,644.7 564.6,648.1 578.0,648.7 591.4,649.2 604.9,650.3 616.0,650.3 627.2,646.9 636.2,643.6 643.0,642.5 655.6,642.5 666.8,634.7 680.2,627.9 695.9,625.3 718.2,624.1 740.6,623.0 763.0,621.5 778.6,621.9 798.7,622.8 809.9,630.2 821.1,644.7 832.3,657.0 843.4,663.7 854.6,663.7 865.8,659.2 879.2,656.3 892.6,653.7 903.8,650.3 915.0,644.7 928.4,639.8 935.0,640.0 941.2,642.9 952.4,643.6 963.5,641.4 974.7,641.4 983.7,644.7 992.6,660.4 1003.8,682.7 1015.0,700.6 1023.9,711.8 1035.1,715.1 1044.0,712.9 1055.2,705.1 1066.4,691.7 1077.6,679.4 1088.7,674.9 1099.9,671.1 1111.1,669.8 1122.3,672.7 1133.4,677.1 1144.6,681.6 1155.8,686.1 1164.7,688.3 1175.9,683.8 1187.1,676.0 1195.6,668.2" fill="none" stroke="#b4b4f4" stroke-width="1" shape-rendering="crispEdges"/>
<polyline points="66.7,711.3 71.2,709.5 77.9,711.8 89.1,712.9 100.2,711.3 109.2,705.1 120.4,698.4 131.5,691.7 142.7,680.5 149.4,678.2 153.9,667.1 160.6,661.5 167.3,662.6 176.3,658.1 185.2,651.4 194.1,644.7 203.1,636.9 214.3,623.5 221.0,624.1 227.7,627.9 234.4,633.1 243.3,634.0 252.3,624.6 261.2,616.1 270.1,616.1 276.9,619.0 283.6,629.1 292.5,642.0 301.4,640.7 308.2,638.5 314.9,634.7 323.8,635.8 332.7,647.0 341.7,655.9 350.6,667.1 361.2,673.8 372.4,675.6 383.5,679.4 394.7,683.8 400.3,686.1 408.1,681.6 417.1,676.0 426.0,677.1 432.7,674.9 439.4,662.6 446.1,654.8 455.1,651.0 464.0,650.3 471.8,653.2 479.7,648.1 490.8,644.7 499.8,635.8 508.7,629.1 515.4,630.9 519.9,628.6 526.6,634.7 533.3,641.4 544.5,645.8 560.1,654.3 569.1,649.2 580.3,651.4 591.4,649.6 600.4,651.9 611.6,651.9 618.3,643.6 627.2,639.8 640.6,640.7 655.6,641.4 664.6,627.9 675.8,618.3 684.7,623.5 695.9,622.4 707.1,624.6 718.2,623.5 729.4,622.8 740.6,622.4 749.5,624.1 758.5,618.3 765.2,619.0 774.1,622.8 785.3,624.1 798.7,622.8 805.4,633.5 814.4,649.2 825.6,664.8 836.7,674.4 845.7,669.3 856.9,660.4 868.0,654.8 879.2,651.9 890.4,652.5 897.1,648.1 908.3,640.9 919.5,635.3 928.4,635.3 933.0,638.0 938.9,648.1 947.9,645.8 956.8,640.2 964.7,637.3 974.7,641.4 983.7,658.1 990.4,682.7 999.3,707.3 1008.2,721.8 1017.2,727.9 1026.1,725.2 1037.3,714.0 1048.5,696.1 1059.7,680.5 1068.6,669.3 1077.6,668.2 1086.5,671.1 1097.7,669.3 1108.9,668.9 1120.0,674.9 1131.2,683.2 1142.4,684.5 1151.3,691.7 1158.0,695.7 1164.7,689.4 1171.4,681.6 1180.4,669.3 1189.3,658.1 1195.6,651.4" fill="none" stroke="#eeeeee" stroke-width="1" shape-rendering="crispEdges"/>
<rect x="67" y="794" width="1129" height="1" fill="#fa8072"/>
<rect x="67" y="830" width="1129" height="1" fill="#f01e64"/>
<rect x="67" y="867" width="1129" height="1" fill="#fa8072"/>
<polyline points="67.8,851.8 82.4,854.0 93.5,856.3 104.7,858.9 113.7,859.6 122.6,857.4 133.8,852.9 145.0,845.1 156.1,833.9 167.3,823.8 178.5,816.0 189.7,807.1 200.8,799.2 212.0,793.2 223.2,789.2 234.4,786.9 245.6,786.5 256.7,785.4 267.9,783.6 276.9,782.9 285.8,786.9 297.0,793.7 308.2,797.0 319.3,796.3 330.5,798.6 341.7,804.8 352.9,816.0 361.2,826.1 372.4,833.9 383.5,840.6 394.7,847.3 403.7,852.2 412.6,850.7 423.8,845.1 435.0,840.2 446.1,830.5 457.3,822.7 468.5,816.0 479.7,810.4 490.8,804.8 502.0,798.6 513.2,793.2 524.4,791.0 535.6,794.1 546.7,798.6 557.9,804.8 564.6,808.2 575.8,809.3 587.0,807.1 598.2,804.8 609.3,803.0 620.5,800.4 631.7,798.1 642.9,797.0 651.2,795.9 662.4,793.7 673.5,791.0 684.7,789.2 707.1,787.4 729.4,784.7 751.8,782.5 774.1,781.8 798.7,780.7 809.9,791.4 821.1,804.8 832.3,818.2 843.4,827.6 854.6,829.4 865.8,826.1 877.0,821.6 888.2,816.0 899.3,810.4 910.5,804.8 921.7,798.6 932.9,793.7 941.2,793.2 952.4,792.5 963.5,791.4 974.7,792.5 985.9,800.4 997.1,811.5 1010.5,829.4 1023.9,841.0 1037.3,847.3 1048.5,849.1 1059.7,844.6 1070.8,833.9 1082.0,826.1 1093.2,820.0 1104.4,816.5 1115.6,815.6 1126.7,819.4 1137.9,826.1 1149.1,833.9 1160.3,841.7 1169.2,843.3 1178.2,838.4 1187.1,831.7 1194.9,822.7" fill="none" stroke="#b4b4f4" stroke-width="1" shape-rendering="crispEdges"/>
<polyline points="67.8,852.9 73.4,849.5 82.4,856.3 93.5,860.7 104.7,863.0 111.4,858.5 118.1,854.0 127.1,849.5 136.0,841.7 145.0,830.5 153.9,818.2 162.8,812.0 169.5,812.7 176.3,808.2 185.2,799.2 196.4,791.4 205.3,787.0 214.3,783.6 225.4,783.1 236.6,784.7 247.8,785.8 256.7,782.5 265.7,780.9 274.6,782.0 281.3,791.4 292.5,804.4 301.4,801.5 308.2,797.7 317.1,795.9 326.0,799.9 332.7,807.1 339.5,813.8 348.4,827.2 355.1,835.0 358.9,838.4 372.4,844.0 385.8,851.8 394.7,858.5 399.2,860.3 405.9,856.3 414.8,843.3 421.5,838.4 432.7,833.9 439.4,823.8 448.4,813.8 459.5,807.5 470.7,806.0 481.9,798.1 493.1,792.5 504.3,787.0 513.2,787.0 519.9,784.7 526.6,792.5 533.3,799.9 544.5,804.4 555.7,810.4 562.4,813.8 571.3,808.9 582.5,807.1 593.7,803.7 604.9,801.5 616.0,798.1 627.2,795.9 638.4,794.8 651.2,791.4 662.4,788.1 673.5,786.5 684.7,787.4 695.9,786.5 707.1,786.5 718.2,785.2 729.4,782.9 740.6,781.6 751.8,781.4 763.0,780.7 774.1,782.0 785.3,781.4 798.7,780.7 805.4,792.5 814.4,809.3 825.6,829.4 836.7,839.5 845.7,837.2 854.6,829.4 863.6,823.8 874.7,817.1 885.9,810.4 897.1,803.0 908.3,795.9 919.5,788.1 930.3,787.4 938.9,798.6 947.9,792.5 956.8,789.2 964.7,787.4 972.5,791.4 981.4,804.8 990.4,822.7 1001.5,836.1 1012.7,846.9 1023.9,852.9 1035.1,854.5 1044.0,851.8 1055.2,842.8 1064.1,829.4 1073.1,818.7 1084.3,817.1 1095.4,813.3 1104.4,811.1 1113.3,812.7 1122.3,822.3 1131.2,832.8 1139.0,836.6 1146.9,845.1 1155.8,851.8 1164.7,845.1 1173.7,831.7 1182.6,819.4 1194.9,806.0" fill="none" stroke="#eeeeee" stroke-width="1" shape-rendering="crispEdges"/>
<polyline points="67.8,850.7 71.2,843.3 75.6,850.7 82.4,861.8 89.1,868.5 100.2,871.9 108.1,869.7 111.4,858.5 118.1,847.3 124.8,839.5 128.2,837.2 131.5,828.3 138.2,816.0 143.8,804.8 147.2,806.0 151.7,793.7 156.1,783.6 160.6,782.0 165.1,784.7 168.4,790.3 171.8,790.3 178.5,780.2 185.2,775.8 194.1,773.1 203.1,769.1 207.5,766.4 216.5,766.8 221.0,772.4 225.4,773.5 232.1,781.4 236.6,783.6 238.8,782.5 243.3,787.0 250.0,782.5 256.7,776.9 263.4,775.3 270.1,778.0 275.7,781.4 281.3,793.7 285.8,811.5 291.4,829.4 297.0,820.5 301.4,811.5 308.2,798.1 314.9,795.4 319.3,795.9 323.8,800.4 328.3,811.5 333.9,829.4 339.5,833.9 343.9,847.3 349.5,861.8 355.1,868.5 358.9,869.7 363.4,865.6 367.9,868.5 374.6,867.9 383.5,872.4 388.0,868.5 395.8,880.8 400.3,880.4 405.9,860.7 412.6,838.4 419.3,823.8 426.0,822.7 431.6,820.9 435.0,812.7 439.4,794.8 443.9,791.0 451.7,784.7 459.5,785.2 466.3,788.7 471.8,792.5 477.4,782.5 484.1,778.0 488.6,779.1 495.3,773.5 504.3,769.1 508.7,770.2 512.1,777.6 518.8,775.8 523.3,785.8 528.8,804.8 533.3,816.0 540.0,820.0 546.7,821.6 553.4,825.0 559.0,831.2 563.5,828.3 570.2,808.2 575.8,813.8 580.3,809.3 584.7,802.6 593.7,798.6 599.3,800.8 603.7,792.5 610.5,802.6 617.2,788.1 622.7,785.8 629.5,787.4 636.2,793.2 642.9,790.5 648.9,789.6 655.6,787.4 662.4,782.5 669.1,779.1 674.7,776.2 679.1,778.5 683.6,787.0 689.2,785.8 695.9,781.4 703.7,787.0 711.5,783.6 717.1,784.7 722.7,782.9 729.4,779.1 739.5,774.7 746.2,780.2 751.8,779.1 758.5,776.2 764.1,778.0 768.6,784.3 774.1,782.5 783.1,780.7 792.0,782.5 798.7,779.8 803.2,793.7 808.8,828.3 814.4,845.1 820.0,866.3 825.6,873.0 832.3,876.4 836.7,875.3 841.2,866.3 846.8,849.5 852.4,833.9 858.0,823.8 863.6,814.9 870.3,804.8 874.7,803.7 879.2,795.9 885.9,791.0 894.9,782.5 899.3,784.7 904.9,777.6 911.6,776.2 920.6,769.5 928.4,772.4 932.2,779.1 935.6,795.9 939.4,806.0 944.5,798.6 950.1,788.7 955.7,785.8 963.1,779.8 968.0,787.0 974.7,798.1 980.3,825.0 987.0,854.0 994.8,867.4 1003.8,878.6 1012.7,883.1 1019.4,882.0 1028.4,874.1 1037.3,866.3 1044.0,856.3 1050.7,842.8 1057.4,827.2 1064.1,809.3 1070.8,788.1 1077.6,791.4 1084.3,798.6 1091.0,798.6 1099.9,797.7 1106.6,801.5 1113.3,807.1 1120.0,822.7 1126.7,845.1 1132.3,858.9 1135.7,859.6 1139.0,855.1 1143.5,864.1 1148.0,873.0 1154.7,875.9 1159.2,870.8 1163.6,851.8 1169.2,833.9 1173.7,817.1 1179.3,801.5 1184.9,786.9 1194.9,775.3" fill="none" stroke="#f0a8f0" stroke-width="1" shape-rendering="crispEdges"/>
<text x="62.2" y="29.7" fill="#ffffff" font-size="13" text-anchor="end" font-weight="normal" font-family="'Liberation Sans', 'Noto Sans CJK SC', sans-serif">2788.23</text>
<text x="1290" y="29.7" fill="#ffffff" font-size="13" text-anchor="start" font-weight="normal" font-family="'Liberation Sans', 'Noto Sans CJK SC', sans-serif">2788.23</text>
<text x="62.2" y="85.7" fill="#ffffff" font-size="13" text-anchor="end" font-weight="normal" font-family="'Liberation Sans', 'Noto Sans CJK SC', sans-serif">2767.32</text>
<text x="1290" y="85.7" fill="#ffffff" font-size="13" text-anchor="start" font-weight="normal" font-family="'Liberation Sans', 'Noto Sans CJK SC', sans-serif">2767.32</text>
<text x="62.2" y="142.7" fill="#ffffff" font-size="13" text-anchor="end" font-weight="normal" font-family="'Liberation Sans', 'Noto Sans CJK SC', sans-serif">2746.41</text>
<text x="1290" y="142.7" fill="#ffffff" font-size="13" text-anchor="start" font-weight="normal" font-family="'Liberation Sans', 'Noto Sans CJK SC', sans-serif">2746.41</text>
<text x="62.2" y="199.7" fill="#ffffff" font-size="13" text-anchor="end" font-weight="normal" font-family="'Liberation Sans', 'Noto Sans CJK SC', sans-serif">2725.50</text>
<text x="1290" y="199.7" fill="#ffffff" font-size="13" text-anchor="start" font-weight="normal" font-family="'Liberation Sans', 'Noto Sans CJK SC', sans-serif">2725.50</text>
<text x="62.2" y="256.7" fill="#ffffff" font-size="13" text-anchor="end" font-weight="normal" font-family="'Liberation Sans', 'Noto Sans CJK SC', sans-serif">2704.59</text>
<text x="1290" y="256.7" fill="#ffffff" font-size="13" text-anchor="start" font-weight="normal" font-family="'Liberation Sans', 'Noto Sans CJK SC', sans-serif">2704.59</text>
<text x="62.2" y="313.7" fill="#ffffff" font-size="13" text-anchor="end" font-weight="normal" font-family="'Liberation Sans', 'Noto Sans CJK SC', sans-serif">2683.68</text>
<text x="1290" y="313.7" fill="#ffffff" font-size="13" text-anchor="start" font-weight="normal" font-family="'Liberation Sans', 'Noto Sans CJK SC', sans-serif">2683.68</text>
<text x="62.2" y="369.7" fill="#ffffff" font-size="13" text-anchor="end" font-weight="normal" font-family="'Liberation Sans', 'Noto Sans CJK SC', sans-serif">2662.77</text>
<text x="1290" y="369.7" fill="#ffffff" font-size="13" text-anchor="start" font-weight="normal" font-family="'Liberation Sans', 'Noto Sans CJK SC', sans-serif">2662.77</text>
<text x="62.2" y="426.7" fill="#ffffff" font-size="13" text-anchor="end" font-weight="normal" font-family="'Liberation Sans', 'Noto Sans CJK SC', sans-serif">2641.85</text>
<text x="1290" y="426.7" fill="#ffffff" font-size="13" text-anchor="start" font-weight="normal" font-family="'Liberation Sans', 'Noto Sans CJK SC', sans-serif">2641.85</text>
<text x="62.2" y="482.7" fill="#ffffff" font-size="13" text-anchor="end" font-weight="normal" font-family="'Liberation Sans', 'Noto Sans CJK SC', sans-serif">2620.94</text>
<text x="1290" y="482.7" fill="#ffffff" font-size="13" text-anchor="start" font-weight="normal" font-family="'Liberation Sans', 'Noto Sans CJK SC', sans-serif">2620.94</text>
<text x="62.2" y="539.7" fill="#ffffff" font-size="13" text-anchor="end" font-weight="normal" font-family="'Liberation Sans', 'Noto Sans CJK SC', sans-serif">2600.03</text>
<text x="1290" y="539.7" fill="#ffffff" font-size="13" text-anchor="start" font-weight="normal" font-family="'Liberation Sans', 'Noto Sans CJK SC', sans-serif">2600.03</text>
<text x="62.2" y="618.7" fill="#ffffff" font-size="13" text-anchor="end" font-weight="normal" font-family="'Liberation Sans', 'Noto Sans CJK SC', sans-serif">8.32</text>
<text x="1290" y="618.7" fill="#ffffff" font-size="13" text-anchor="start" font-weight="normal" font-family="'Liberation Sans', 'Noto Sans CJK SC', sans-serif">8.32</text>
<text x="62.2" y="643.7" fill="#ffffff" font-size="13" text-anchor="end" font-weight="normal" font-family="'Liberation Sans', 'Noto Sans CJK SC', sans-serif">4.83</text>
<text x="1290" y="643.7" fill="#ffffff" font-size="13" text-anchor="start" font-weight="normal" font-family="'Liberation Sans', 'Noto Sans CJK SC', sans-serif">4.83</text>
<text x="62.2" y="669.7" fill="#ffffff" font-size="13" text-anchor="end" font-weight="normal" font-family="'Liberation Sans', 'Noto Sans CJK SC', sans-serif">1.34</text>
<text x="1290" y="669.7" fill="#ffffff" font-size="13" text-anchor="start" font-weight="normal" font-family="'Liberation Sans', 'Noto Sans CJK SC', sans-serif">1.34</text>
<text x="62.2" y="695.7" fill="#ffffff" font-size="13" text-anchor="end" font-weight="normal" font-family="'Liberation Sans', 'Noto Sans CJK SC', sans-serif">-2.15</text>
<text x="1290" y="695.7" fill="#ffffff" font-size="13" text-anchor="start" font-weight="normal" font-family="'Liberation Sans', 'Noto Sans CJK SC', sans-serif">-2.15</text>
<text x="62.2" y="721.7" fill="#ffffff" font-size="13" text-anchor="end" font-weight="normal" font-family="'Liberation Sans', 'Noto Sans CJK SC', sans-serif">-5.63</text>
<text x="1290" y="721.7" fill="#ffffff" font-size="13" text-anchor="start" font-weight="normal" font-family="'Liberation Sans', 'Noto Sans CJK SC', sans-serif">-5.63</text>
<text x="62.2" y="769.7" fill="#ffffff" font-size="13" text-anchor="end" font-weight="normal" font-family="'Liberation Sans', 'Noto Sans CJK SC', sans-serif">103.62</text>
<text x="1290" y="769.7" fill="#ffffff" font-size="13" text-anchor="start" font-weight="normal" font-family="'Liberation Sans', 'Noto Sans CJK SC', sans-serif">103.62</text>
<text x="62.2" y="792.7" fill="#ffffff" font-size="13" text-anchor="end" font-weight="normal" font-family="'Liberation Sans', 'Noto Sans CJK SC', sans-serif">83.94</text>
<text x="1290" y="792.7" fill="#ffffff" font-size="13" text-anchor="start" font-weight="normal" font-family="'Liberation Sans', 'Noto Sans CJK SC', sans-serif">83.94</text>
<text x="62.2" y="816.7" fill="#ffffff" font-size="13" text-anchor="end" font-weight="normal" font-family="'Liberation Sans', 'Noto Sans CJK SC', sans-serif">64.27</text>
<text x="1290" y="816.7" fill="#ffffff" font-size="13" text-anchor="start" font-weight="normal" font-family="'Liberation Sans', 'Noto Sans CJK SC', sans-serif">64.27</text>
<text x="62.2" y="840.7" fill="#ffffff" font-size="13" text-anchor="end" font-weight="normal" font-family="'Liberation Sans', 'Noto Sans CJK SC', sans-serif">44.60</text>
<text x="1290" y="840.7" fill="#ffffff" font-size="13" text-anchor="start" font-weight="normal" font-family="'Liberation Sans', 'Noto Sans CJK SC', sans-serif">44.60</text>
<text x="62.2" y="864.7" fill="#ffffff" font-size="13" text-anchor="end" font-weight="normal" font-family="'Liberation Sans', 'Noto Sans CJK SC', sans-serif">24.92</text>
<text x="1290" y="864.7" fill="#ffffff" font-size="13" text-anchor="start" font-weight="normal" font-family="'Liberation Sans', 'Noto Sans CJK SC', sans-serif">24.92</text>
<rect x="1288.5" y="139.5" width="60" height="17" fill="#000" stroke="#f0a030" stroke-width="1"/>
<text x="1292" y="153" fill="#f0a030" font-size="12.5" text-anchor="start" font-weight="normal" font-family="'Liberation Sans', 'Noto Sans CJK SC', sans-serif">2746.26</text>
<text x="66" y="18" fill="#e6e6e6" font-size="12" text-anchor="start" font-weight="normal" font-family="'Liberation Sans', 'Noto Sans CJK SC', sans-serif">现货黄金</text>
<text x="114" y="18" fill="#ff7a10" font-size="12" text-anchor="start" font-weight="normal" font-family="'Liberation Sans', 'Noto Sans CJK SC', sans-serif">【60分】</text>
<circle cx="169.4" cy="15.4" r="4.3" fill="none" stroke="#ff7a10" stroke-width="1.1"/>
<rect x="165" y="15" width="9" height="1" fill="#ff7a10"/><rect x="169" y="11" width="1" height="9" fill="#e06010"/>
<rect x="182" y="6" width="13" height="13" fill="#a0a0a0"/>
<rect x="181.5" y="5.5" width="12" height="12" fill="#ffffff" stroke="#000090" stroke-width="1" shape-rendering="crispEdges"/>
<polyline points="182.5,12.5 185.5,8.5 188.5,11.8 191,9.5 193,9.5" fill="none" stroke="#ff0000" stroke-width="1.2"/>
<polyline points="182.5,15.5 185.5,11.8 188.5,14.8 191,12.5 193,12.5" fill="none" stroke="#0000ff" stroke-width="1.2"/>
<text x="197" y="17.5" fill="#e6e6e6" font-size="12.5" text-anchor="start" font-weight="normal" font-family="'Liberation Sans', 'Noto Sans CJK SC', sans-serif" textLength="137.5" lengthAdjust="spacingAndGlyphs">BOLL(26,2) MID:2732.32</text>
<text x="343.5" y="17.5" fill="#a8b0f8" font-size="12.5" text-anchor="start" font-weight="normal" font-family="'Liberation Sans', 'Noto Sans CJK SC', sans-serif" textLength="85" lengthAdjust="spacingAndGlyphs">UPPER:2746.90</text>
<text x="437.3" y="17.5" fill="#ecb4ec" font-size="12.5" text-anchor="start" font-weight="normal" font-family="'Liberation Sans', 'Noto Sans CJK SC', sans-serif" textLength="90" lengthAdjust="spacingAndGlyphs">LOWER:2717.75</text>
<text x="66.7" y="607" fill="#e6e6e6" font-size="12.5" text-anchor="start" font-weight="normal" font-family="'Liberation Sans', 'Noto Sans CJK SC', sans-serif" textLength="141" lengthAdjust="spacingAndGlyphs">MACD(26,12,9) DIFF:3.33</text>
<text x="216.5" y="607" fill="#a8b0f8" font-size="12.5" text-anchor="start" font-weight="normal" font-family="'Liberation Sans', 'Noto Sans CJK SC', sans-serif" textLength="49.5" lengthAdjust="spacingAndGlyphs">DEA:1.23</text>
<text x="275.7" y="607" fill="#f4a8c8" font-size="12.5" text-anchor="start" font-weight="normal" font-family="'Liberation Sans', 'Noto Sans CJK SC', sans-serif" textLength="63.5" lengthAdjust="spacingAndGlyphs">MACD:4.20</text>
<text x="66.3" y="758.5" fill="#e6e6e6" font-size="12.5" text-anchor="start" font-weight="normal" font-family="'Liberation Sans', 'Noto Sans CJK SC', sans-serif" textLength="109.5" lengthAdjust="spacingAndGlyphs">KDJ(21,8,5) K:70.72</text>
<text x="184.6" y="758.5" fill="#a8b0f8" font-size="12.5" text-anchor="start" font-weight="normal" font-family="'Liberation Sans', 'Noto Sans CJK SC', sans-serif" textLength="41.3" lengthAdjust="spacingAndGlyphs">D:57.68</text>
<text x="235.3" y="758.5" fill="#eeaaee" font-size="12.5" text-anchor="start" font-weight="normal" font-family="'Liberation Sans', 'Noto Sans CJK SC', sans-serif" textLength="38.5" lengthAdjust="spacingAndGlyphs">J:96.80</text>
<text x="282.2" y="758.5" fill="#f08070" font-size="12.5" text-anchor="start" font-weight="normal" font-family="'Liberation Sans', 'Noto Sans CJK SC', sans-serif" textLength="57.3" lengthAdjust="spacingAndGlyphs">超买:80.00</text>
<text x="348" y="758.5" fill="#f08070" font-size="12.5" text-anchor="start" font-weight="normal" font-family="'Liberation Sans', 'Noto Sans CJK SC', sans-serif" textLength="58" lengthAdjust="spacingAndGlyphs">超卖:20.00</text>
<text x="413.7" y="758.5" fill="#f01e64" font-size="12.5" text-anchor="start" font-weight="normal" font-family="'Liberation Sans', 'Noto Sans CJK SC', sans-serif" textLength="58" lengthAdjust="spacingAndGlyphs">分割:50.00</text>
<circle cx="2.9" cy="750.8" r="3.6" fill="#ffffff" stroke="#000" stroke-width="1"/>
<circle cx="2.9" cy="750.8" r="2" fill="#ff0000"/>
<rect x="2" y="743.8" width="1" height="2.4" fill="#ff0000"/><rect x="2" y="755.8" width="1" height="2.4" fill="#ff0000"/><rect x="8" y="750" width="2.2" height="1" fill="#ff0000"/>
<path d="M7,746.8 L8.8,745 M7,755 L8.8,756.8" stroke="#ff0000" stroke-width="1"/>
<rect x="1224" y="4" width="16" height="16" fill="#000"/>
<rect x="1225.5" y="5.5" width="13" height="13" fill="#000" stroke="#bdbdbd" stroke-width="1"/>
<rect x="1240" y="4" width="16" height="16" fill="#000"/>
<rect x="1241.5" y="5.5" width="13" height="13" fill="#000" stroke="#bdbdbd" stroke-width="1"/>
<rect x="1256" y="4" width="16" height="16" fill="#000"/>
<rect x="1257.5" y="5.5" width="13" height="13" fill="#000" stroke="#bdbdbd" stroke-width="1"/>
<rect x="1272" y="4" width="16" height="16" fill="#000"/>
<rect x="1273.5" y="5.5" width="13" height="13" fill="#000" stroke="#bdbdbd" stroke-width="1"/>
<rect x="1231" y="7.5" width="2" height="2" fill="#c4c4c4"/>
<rect x="1231" y="14.5" width="2" height="2" fill="#c4c4c4"/>
<rect x="1227.5" y="11" width="2" height="2" fill="#c4c4c4"/>
<rect x="1234.5" y="11" width="2" height="2" fill="#c4c4c4"/>
<rect x="1231" y="11" width="2" height="2" fill="#c4c4c4"/>
<rect x="1231.5" y="9.5" width="1" height="1" fill="#777"/><rect x="1231.5" y="13" width="1" height="1" fill="#777"/><rect x="1229.5" y="11.5" width="1" height="1" fill="#777"/><rect x="1233" y="11.5" width="1" height="1" fill="#777"/>
<path d="M1244.6,7.5 V16.5 M1243.0,15.6 H1253.1" stroke="#c4c4c4" stroke-width="1.1" fill="none"/>
<path d="M1244.6,6.8 L1243.2,9 L1246.0,9Z M1253.8,15.6 L1252.0,14 L1252.0,17.2Z M1242.4,15.6 L1244.0,14 L1244.0,17.2Z" fill="#c4c4c4"/>
<path d="M1260.5,7.5 V16.5 M1258.9,15.6 H1269.0" stroke="#c4c4c4" stroke-width="1.1" fill="none"/>
<path d="M1260.5,6.8 L1259.1,9 L1261.9,9Z M1269.7,15.6 L1267.9,14 L1267.9,17.2Z M1258.3,15.6 L1259.9,14 L1259.9,17.2Z" fill="#c4c4c4"/>
<rect x="1247" y="8.4" width="1" height="5.5" fill="#c4c4c4"/>
<path d="M1251.2,8.6 L1248.3,11 L1251.2,13.4Z" fill="#c4c4c4"/>
<path d="M1263.2,8 L1268.2,11.3 L1263.2,14.6Z" fill="#c4c4c4"/>
<path d="M1277.5,11.5 H1282" stroke="#c4c4c4" stroke-width="1.2" fill="none"/>
<path d="M1276,11.5 L1278.6,9.2 L1278.6,13.8Z" fill="#c4c4c4"/>
<rect x="1281.7" y="7.8" width="2.6" height="8.6" fill="none" stroke="#c4c4c4" stroke-width="1"/>
<text x="73.8" y="897" fill="#f4f4f4" font-size="12" text-anchor="start" font-weight="bold" font-family="'Liberation Sans', 'Noto Sans CJK SC', sans-serif" textLength="30.5" lengthAdjust="spacingAndGlyphs">10/10</text>
<text x="257.9" y="897" fill="#f4f4f4" font-size="12" text-anchor="start" font-weight="bold" font-family="'Liberation Sans', 'Noto Sans CJK SC', sans-serif" textLength="30.5" lengthAdjust="spacingAndGlyphs">10/12</text>
<text x="441.5" y="897" fill="#f4f4f4" font-size="12" text-anchor="start" font-weight="bold" font-family="'Liberation Sans', 'Noto Sans CJK SC', sans-serif" textLength="30.5" lengthAdjust="spacingAndGlyphs">10/16</text>
<text x="625.7" y="897" fill="#f4f4f4" font-size="12" text-anchor="start" font-weight="bold" font-family="'Liberation Sans', 'Noto Sans CJK SC', sans-serif" textLength="30.5" lengthAdjust="spacingAndGlyphs">10/18</text>
<text x="809.5" y="897" fill="#f4f4f4" font-size="12" text-anchor="start" font-weight="bold" font-family="'Liberation Sans', 'Noto Sans CJK SC', sans-serif" textLength="30.5" lengthAdjust="spacingAndGlyphs">10/22</text>
<text x="993.8" y="897" fill="#f4f4f4" font-size="12" text-anchor="start" font-weight="bold" font-family="'Liberation Sans', 'Noto Sans CJK SC', sans-serif" textLength="30.5" lengthAdjust="spacingAndGlyphs">10/24</text>
<text x="1177.7" y="897" fill="#f4f4f4" font-size="12" text-anchor="start" font-weight="bold" font-family="'Liberation Sans', 'Noto Sans CJK SC', sans-serif" textLength="30.5" lengthAdjust="spacingAndGlyphs">10/26</text>
<text x="8.5" y="898.5" fill="#ff7a10" font-size="12.5" text-anchor="start" font-weight="normal" font-family="'Liberation Sans', 'Noto Sans CJK SC', sans-serif" textLength="25.5" lengthAdjust="spacingAndGlyphs">60分</text>
<path d="M39.5,899 L44,891 L48.5,899Z" fill="#ff7a10"/>
<rect x="0" y="905" width="1342" height="16" fill="#1b1b1b"/>
<rect x="0" y="921" width="1342" height="2" fill="#0c0c0c"/>
<rect x="576" y="921" width="180" height="2" fill="#4a4a4a"/>
<rect x="664" y="921" width="4" height="2" fill="#ff7a10"/>
<rect x="0" y="905" width="34" height="15" fill="#0e0e0e"/>
<text x="1.9" y="916.5" fill="#f4f4f4" font-size="12" text-anchor="start" font-weight="normal" font-family="'Liberation Sans', 'Noto Sans CJK SC', sans-serif" textLength="23.1" lengthAdjust="spacingAndGlyphs">指标</text>
<rect x="34" y="905" width="39" height="15" fill="#ff6a00"/>
<text x="42" y="916.5" fill="#ffffff" font-size="12" text-anchor="start" font-weight="normal" font-family="'Liberation Sans', 'Noto Sans CJK SC', sans-serif" textLength="23.2" lengthAdjust="spacingAndGlyphs">模板</text>
<rect x="75" y="905" width="56" height="15" fill="#0e0e0e"/>
<text x="82.2" y="916.5" fill="#ff7a10" font-size="12" text-anchor="start" font-weight="normal" font-family="'Liberation Sans', 'Noto Sans CJK SC', sans-serif" textLength="40.6" lengthAdjust="spacingAndGlyphs">VIP指标</text>
<rect x="132" y="905" width="39" height="15" fill="#0e0e0e"/>
<text x="139.7" y="916.5" fill="#cccccc" font-size="12" text-anchor="start" font-weight="normal" font-family="'Liberation Sans', 'Noto Sans CJK SC', sans-serif" textLength="23.1" lengthAdjust="spacingAndGlyphs">标准</text>
<rect x="172" y="905" width="63" height="15" fill="#ff6a00"/>
<text x="180.7" y="916.5" fill="#ffffff" font-size="12" text-anchor="start" font-weight="normal" font-family="'Liberation Sans', 'Noto Sans CJK SC', sans-serif" textLength="46.9" lengthAdjust="spacingAndGlyphs">另存模板</text>
<rect x="236" y="905" width="63" height="15" fill="#0e0e0e"/>
<text x="244" y="916.5" fill="#cccccc" font-size="12" text-anchor="start" font-weight="normal" font-family="'Liberation Sans', 'Noto Sans CJK SC', sans-serif" textLength="47.7" lengthAdjust="spacingAndGlyphs">管理模板</text>
<text x="1213.5" y="898" fill="#e4ecf8" font-size="31" text-anchor="start" font-weight="normal" font-family="'Liberation Sans', 'Noto Sans CJK SC', sans-serif" letter-spacing="1.6">FX678</text>
</svg>
</body></html>
